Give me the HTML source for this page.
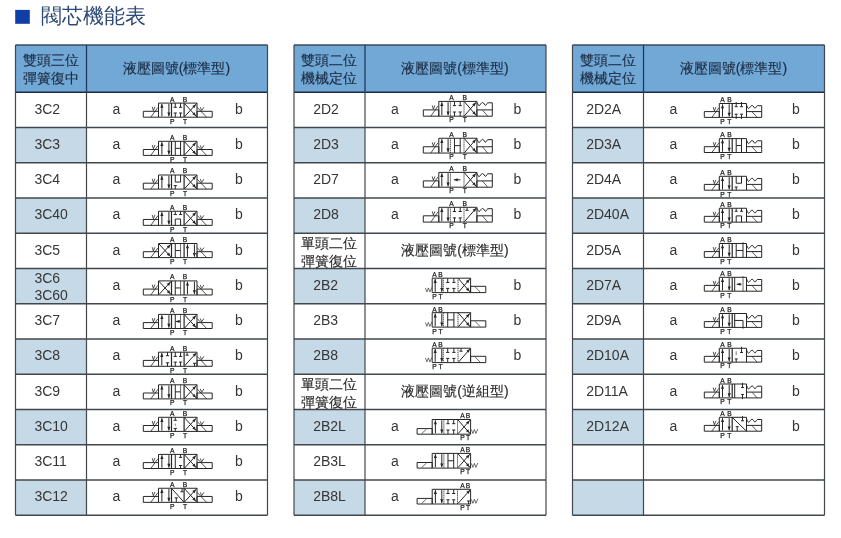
<!DOCTYPE html>
<html><head><meta charset="utf-8"><style>
html,body{margin:0;padding:0;background:#fff;width:841px;height:538px;overflow:hidden}
svg text{font-family:"Liberation Sans",sans-serif}
svg{will-change:transform}
</style></head><body>
<svg width="841" height="538" viewBox="0 0 841 538" style="position:absolute;left:0;top:0">
<rect x="15.2" y="9.9" width="14.6" height="13.9" fill="#0f3fa6"/>
<text x="41" y="22.8" font-size="21" fill="#2d4a76">閥芯機能表</text>
<rect x="15.50" y="45.00" width="252.00" height="47.25" fill="#72a8d5"/>
<rect x="15.50" y="127.50" width="71.00" height="35.25" fill="#c5d9e7"/>
<rect x="15.50" y="198.00" width="71.00" height="35.25" fill="#c5d9e7"/>
<rect x="15.50" y="268.50" width="71.00" height="35.25" fill="#c5d9e7"/>
<rect x="15.50" y="339.00" width="71.00" height="35.25" fill="#c5d9e7"/>
<rect x="15.50" y="409.50" width="71.00" height="35.25" fill="#c5d9e7"/>
<rect x="15.50" y="480.00" width="71.00" height="35.25" fill="#c5d9e7"/>
<line x1="15.50" y1="127.50" x2="267.50" y2="127.50" stroke="#42474d" stroke-width="1.4" />
<line x1="15.50" y1="162.75" x2="267.50" y2="162.75" stroke="#42474d" stroke-width="1.4" />
<line x1="15.50" y1="198.00" x2="267.50" y2="198.00" stroke="#42474d" stroke-width="1.4" />
<line x1="15.50" y1="233.25" x2="267.50" y2="233.25" stroke="#42474d" stroke-width="1.4" />
<line x1="15.50" y1="268.50" x2="267.50" y2="268.50" stroke="#42474d" stroke-width="1.4" />
<line x1="15.50" y1="303.75" x2="267.50" y2="303.75" stroke="#42474d" stroke-width="1.4" />
<line x1="15.50" y1="339.00" x2="267.50" y2="339.00" stroke="#42474d" stroke-width="1.4" />
<line x1="15.50" y1="374.25" x2="267.50" y2="374.25" stroke="#42474d" stroke-width="1.4" />
<line x1="15.50" y1="409.50" x2="267.50" y2="409.50" stroke="#42474d" stroke-width="1.4" />
<line x1="15.50" y1="444.75" x2="267.50" y2="444.75" stroke="#42474d" stroke-width="1.4" />
<line x1="15.50" y1="480.00" x2="267.50" y2="480.00" stroke="#42474d" stroke-width="1.4" />
<line x1="15.50" y1="515.25" x2="267.50" y2="515.25" stroke="#42474d" stroke-width="1.4" />
<line x1="15.50" y1="92.25" x2="267.50" y2="92.25" stroke="#1c2c44" stroke-width="1.4" />
<line x1="15.50" y1="45.00" x2="267.50" y2="45.00" stroke="#3c4a5a" stroke-width="1.4" />
<line x1="15.50" y1="45.00" x2="15.50" y2="515.25" stroke="#42474d" stroke-width="1.2" />
<line x1="267.50" y1="45.00" x2="267.50" y2="515.25" stroke="#42474d" stroke-width="1.2" />
<line x1="86.50" y1="45.00" x2="86.50" y2="92.25" stroke="#1e3a5e" stroke-width="1.3" />
<line x1="86.50" y1="92.25" x2="86.50" y2="515.25" stroke="#42474d" stroke-width="1.2" />
<text x="50.70" y="64.80" font-size="14" fill="#1b2c44" stroke="#1b2c44" stroke-width="0.15" text-anchor="middle">雙頭三位</text>
<text x="50.70" y="83.10" font-size="14" fill="#1b2c44" stroke="#1b2c44" stroke-width="0.15" text-anchor="middle">彈簧復中</text>
<text x="176.50" y="72.60" font-size="14" fill="#1b2c44" stroke="#1b2c44" stroke-width="0.15" text-anchor="middle">液壓圖號(標準型)</text>
<text x="34.40" y="113.65" font-size="14" fill="#363636" text-anchor="start" font-weight="normal" >3C2</text>
<path d="M143.30,111.30 h15.20 v5.90 h-15.20 Z" fill="none" stroke="#262626" stroke-width="1.0"/>
<path d="M150.80,117.20 L157.90,107.50" fill="none" stroke="#262626" stroke-width="0.8"/>
<path d="M152.20,106.80 L153.40,110.60 L154.90,106.80" fill="none" stroke="#262626" stroke-width="0.8"/>
<path d="M197.00,111.30 h15.20 v5.90 h-15.20 Z" fill="none" stroke="#262626" stroke-width="1.0"/>
<path d="M197.20,107.30 L206.60,117.20" fill="none" stroke="#262626" stroke-width="0.8"/>
<path d="M200.30,107.20 L201.60,110.60 L203.90,107.20" fill="none" stroke="#262626" stroke-width="0.8"/>
<path d="M158.50,103.10 H197.00 V117.20 H158.50 Z" fill="none" stroke="#262626" stroke-width="1.0"/>
<path d="M171.50,103.10 V117.20 M184.10,103.10 V117.20" fill="none" stroke="#262626" stroke-width="1.2"/>
<path d="M161.88,116.40 L161.88,104.00" fill="none" stroke="#262626" stroke-width="1.0"/>
<path d="M161.88,104.00 L163.48,107.80 L160.28,107.80 Z" fill="#262626"/>
<path d="M168.90,103.90 L168.90,116.30" fill="none" stroke="#262626" stroke-width="1.0"/>
<path d="M168.90,116.30 L167.30,112.50 L170.50,112.50 Z" fill="#262626"/>
<path d="M175.28,103.10 L175.28,107.30 M173.68,107.30 L176.88,107.30" fill="none" stroke="#262626" stroke-width="1.0"/>
<path d="M180.57,103.10 L180.57,107.30 M178.97,107.30 L182.17,107.30" fill="none" stroke="#262626" stroke-width="1.0"/>
<path d="M175.28,117.20 L175.28,113.00 M173.68,113.00 L176.88,113.00" fill="none" stroke="#262626" stroke-width="1.0"/>
<path d="M180.57,117.20 L180.57,113.00 M178.97,113.00 L182.17,113.00" fill="none" stroke="#262626" stroke-width="1.0"/>
<path d="M184.60,116.70 L196.00,104.20" fill="none" stroke="#262626" stroke-width="1.0"/>
<path d="M196.00,104.20 L194.62,108.09 L192.26,105.93 Z" fill="#262626"/>
<path d="M184.60,103.60 L196.00,116.10" fill="none" stroke="#262626" stroke-width="1.0"/>
<path d="M196.00,116.10 L192.26,114.37 L194.62,112.21 Z" fill="#262626"/>
<path d="M196.00,104.20 L197.00,103.10 M196.00,116.10 L197.00,117.20" fill="none" stroke="#262626" stroke-width="1.0"/>
<text x="172.20" y="101.50" font-size="6.7" fill="#1e1e1e" text-anchor="middle" font-weight="normal" stroke="#1e1e1e" stroke-width="0.25">A</text>
<text x="185.10" y="101.50" font-size="6.7" fill="#1e1e1e" text-anchor="middle" font-weight="normal" stroke="#1e1e1e" stroke-width="0.25">B</text>
<text x="172.20" y="123.70" font-size="6.7" fill="#1e1e1e" text-anchor="middle" font-weight="normal" stroke="#1e1e1e" stroke-width="0.25">P</text>
<text x="185.10" y="123.70" font-size="6.7" fill="#1e1e1e" text-anchor="middle" font-weight="normal" stroke="#1e1e1e" stroke-width="0.25">T</text>
<text x="112.50" y="113.65" font-size="14" fill="#363636" text-anchor="start" font-weight="normal" >a</text>
<text x="235.00" y="113.65" font-size="14" fill="#363636" text-anchor="start" font-weight="normal" >b</text>
<text x="34.40" y="148.90" font-size="14" fill="#363636" text-anchor="start" font-weight="normal" >3C3</text>
<path d="M143.30,149.50 h15.20 v5.90 h-15.20 Z" fill="none" stroke="#262626" stroke-width="1.0"/>
<path d="M150.80,155.40 L157.90,145.70" fill="none" stroke="#262626" stroke-width="0.8"/>
<path d="M152.20,145.00 L153.40,148.80 L154.90,145.00" fill="none" stroke="#262626" stroke-width="0.8"/>
<path d="M197.00,149.50 h15.20 v5.90 h-15.20 Z" fill="none" stroke="#262626" stroke-width="1.0"/>
<path d="M197.20,145.50 L206.60,155.40" fill="none" stroke="#262626" stroke-width="0.8"/>
<path d="M200.30,145.40 L201.60,148.80 L203.90,145.40" fill="none" stroke="#262626" stroke-width="0.8"/>
<path d="M158.50,141.30 H197.00 V155.40 H158.50 Z" fill="none" stroke="#262626" stroke-width="1.0"/>
<path d="M171.50,141.30 V155.40 M184.10,141.30 V155.40" fill="none" stroke="#262626" stroke-width="1.2"/>
<path d="M161.88,154.60 L161.88,142.20" fill="none" stroke="#262626" stroke-width="1.0"/>
<path d="M161.88,142.20 L163.48,146.00 L160.28,146.00 Z" fill="#262626"/>
<path d="M168.90,142.10 L168.90,154.50" fill="none" stroke="#262626" stroke-width="1.0"/>
<path d="M168.90,154.50 L167.30,150.70 L170.50,150.70 Z" fill="#262626"/>
<path d="M175.28,141.30 L175.28,155.40 M180.57,141.30 L180.57,155.40 M175.28,148.35 L180.57,148.35" fill="none" stroke="#262626" stroke-width="1.0"/>
<path d="M184.60,154.90 L196.00,142.40" fill="none" stroke="#262626" stroke-width="1.0"/>
<path d="M196.00,142.40 L194.62,146.29 L192.26,144.13 Z" fill="#262626"/>
<path d="M184.60,141.80 L196.00,154.30" fill="none" stroke="#262626" stroke-width="1.0"/>
<path d="M196.00,154.30 L192.26,152.57 L194.62,150.41 Z" fill="#262626"/>
<path d="M196.00,142.40 L197.00,141.30 M196.00,154.30 L197.00,155.40" fill="none" stroke="#262626" stroke-width="1.0"/>
<text x="172.20" y="139.70" font-size="6.7" fill="#1e1e1e" text-anchor="middle" font-weight="normal" stroke="#1e1e1e" stroke-width="0.25">A</text>
<text x="185.10" y="139.70" font-size="6.7" fill="#1e1e1e" text-anchor="middle" font-weight="normal" stroke="#1e1e1e" stroke-width="0.25">B</text>
<text x="172.20" y="161.90" font-size="6.7" fill="#1e1e1e" text-anchor="middle" font-weight="normal" stroke="#1e1e1e" stroke-width="0.25">P</text>
<text x="185.10" y="161.90" font-size="6.7" fill="#1e1e1e" text-anchor="middle" font-weight="normal" stroke="#1e1e1e" stroke-width="0.25">T</text>
<text x="112.50" y="148.90" font-size="14" fill="#363636" text-anchor="start" font-weight="normal" >a</text>
<text x="235.00" y="148.90" font-size="14" fill="#363636" text-anchor="start" font-weight="normal" >b</text>
<text x="34.40" y="184.15" font-size="14" fill="#363636" text-anchor="start" font-weight="normal" >3C4</text>
<path d="M143.30,183.20 h15.20 v5.90 h-15.20 Z" fill="none" stroke="#262626" stroke-width="1.0"/>
<path d="M150.80,189.10 L157.90,179.40" fill="none" stroke="#262626" stroke-width="0.8"/>
<path d="M152.20,178.70 L153.40,182.50 L154.90,178.70" fill="none" stroke="#262626" stroke-width="0.8"/>
<path d="M197.00,183.20 h15.20 v5.90 h-15.20 Z" fill="none" stroke="#262626" stroke-width="1.0"/>
<path d="M197.20,179.20 L206.60,189.10" fill="none" stroke="#262626" stroke-width="0.8"/>
<path d="M200.30,179.10 L201.60,182.50 L203.90,179.10" fill="none" stroke="#262626" stroke-width="0.8"/>
<path d="M158.50,175.00 H197.00 V189.10 H158.50 Z" fill="none" stroke="#262626" stroke-width="1.0"/>
<path d="M171.50,175.00 V189.10 M184.10,175.00 V189.10" fill="none" stroke="#262626" stroke-width="1.2"/>
<path d="M161.88,188.30 L161.88,175.90" fill="none" stroke="#262626" stroke-width="1.0"/>
<path d="M161.88,175.90 L163.48,179.70 L160.28,179.70 Z" fill="#262626"/>
<path d="M168.90,175.80 L168.90,188.20" fill="none" stroke="#262626" stroke-width="1.0"/>
<path d="M168.90,188.20 L167.30,184.40 L170.50,184.40 Z" fill="#262626"/>
<path d="M175.28,175.00 L175.28,182.05 L180.57,182.05 L180.57,175.00" fill="none" stroke="#262626" stroke-width="1.0"/>
<path d="M175.28,189.10 L175.28,185.60 M173.68,185.60 L176.88,185.60" fill="none" stroke="#262626" stroke-width="1.0"/>
<path d="M184.60,188.60 L196.00,176.10" fill="none" stroke="#262626" stroke-width="1.0"/>
<path d="M196.00,176.10 L194.62,179.99 L192.26,177.83 Z" fill="#262626"/>
<path d="M184.60,175.50 L196.00,188.00" fill="none" stroke="#262626" stroke-width="1.0"/>
<path d="M196.00,188.00 L192.26,186.27 L194.62,184.11 Z" fill="#262626"/>
<path d="M196.00,176.10 L197.00,175.00 M196.00,188.00 L197.00,189.10" fill="none" stroke="#262626" stroke-width="1.0"/>
<text x="172.20" y="173.40" font-size="6.7" fill="#1e1e1e" text-anchor="middle" font-weight="normal" stroke="#1e1e1e" stroke-width="0.25">A</text>
<text x="185.10" y="173.40" font-size="6.7" fill="#1e1e1e" text-anchor="middle" font-weight="normal" stroke="#1e1e1e" stroke-width="0.25">B</text>
<text x="172.20" y="195.60" font-size="6.7" fill="#1e1e1e" text-anchor="middle" font-weight="normal" stroke="#1e1e1e" stroke-width="0.25">P</text>
<text x="185.10" y="195.60" font-size="6.7" fill="#1e1e1e" text-anchor="middle" font-weight="normal" stroke="#1e1e1e" stroke-width="0.25">T</text>
<text x="112.50" y="184.15" font-size="14" fill="#363636" text-anchor="start" font-weight="normal" >a</text>
<text x="235.00" y="184.15" font-size="14" fill="#363636" text-anchor="start" font-weight="normal" >b</text>
<text x="34.40" y="219.40" font-size="14" fill="#363636" text-anchor="start" font-weight="normal" >3C40</text>
<path d="M143.30,219.45 h15.20 v5.90 h-15.20 Z" fill="none" stroke="#262626" stroke-width="1.0"/>
<path d="M150.80,225.35 L157.90,215.65" fill="none" stroke="#262626" stroke-width="0.8"/>
<path d="M152.20,214.95 L153.40,218.75 L154.90,214.95" fill="none" stroke="#262626" stroke-width="0.8"/>
<path d="M197.00,219.45 h15.20 v5.90 h-15.20 Z" fill="none" stroke="#262626" stroke-width="1.0"/>
<path d="M197.20,215.45 L206.60,225.35" fill="none" stroke="#262626" stroke-width="0.8"/>
<path d="M200.30,215.35 L201.60,218.75 L203.90,215.35" fill="none" stroke="#262626" stroke-width="0.8"/>
<path d="M158.50,211.25 H197.00 V225.35 H158.50 Z" fill="none" stroke="#262626" stroke-width="1.0"/>
<path d="M171.50,211.25 V225.35 M184.10,211.25 V225.35" fill="none" stroke="#262626" stroke-width="1.2"/>
<path d="M161.88,224.55 L161.88,212.15" fill="none" stroke="#262626" stroke-width="1.0"/>
<path d="M161.88,212.15 L163.48,215.95 L160.28,215.95 Z" fill="#262626"/>
<path d="M168.90,212.05 L168.90,224.45" fill="none" stroke="#262626" stroke-width="1.0"/>
<path d="M168.90,224.45 L167.30,220.65 L170.50,220.65 Z" fill="#262626"/>
<path d="M175.28,219.00 L180.57,219.00 M175.28,219.00 L175.28,225.35 M180.57,219.00 L180.57,225.35" fill="none" stroke="#262626" stroke-width="1.0"/>
<path d="M175.28,211.25 L175.28,214.55 M173.68,214.55 L176.88,214.55" fill="none" stroke="#262626" stroke-width="1.0"/>
<path d="M180.57,211.25 L180.57,214.55 M178.97,214.55 L182.17,214.55" fill="none" stroke="#262626" stroke-width="1.0"/>
<path d="M184.60,224.85 L196.00,212.35" fill="none" stroke="#262626" stroke-width="1.0"/>
<path d="M196.00,212.35 L194.62,216.24 L192.26,214.08 Z" fill="#262626"/>
<path d="M184.60,211.75 L196.00,224.25" fill="none" stroke="#262626" stroke-width="1.0"/>
<path d="M196.00,224.25 L192.26,222.52 L194.62,220.36 Z" fill="#262626"/>
<path d="M196.00,212.35 L197.00,211.25 M196.00,224.25 L197.00,225.35" fill="none" stroke="#262626" stroke-width="1.0"/>
<text x="172.20" y="209.65" font-size="6.7" fill="#1e1e1e" text-anchor="middle" font-weight="normal" stroke="#1e1e1e" stroke-width="0.25">A</text>
<text x="185.10" y="209.65" font-size="6.7" fill="#1e1e1e" text-anchor="middle" font-weight="normal" stroke="#1e1e1e" stroke-width="0.25">B</text>
<text x="172.20" y="231.85" font-size="6.7" fill="#1e1e1e" text-anchor="middle" font-weight="normal" stroke="#1e1e1e" stroke-width="0.25">P</text>
<text x="185.10" y="231.85" font-size="6.7" fill="#1e1e1e" text-anchor="middle" font-weight="normal" stroke="#1e1e1e" stroke-width="0.25">T</text>
<text x="112.50" y="219.40" font-size="14" fill="#363636" text-anchor="start" font-weight="normal" >a</text>
<text x="235.00" y="219.40" font-size="14" fill="#363636" text-anchor="start" font-weight="normal" >b</text>
<text x="34.40" y="254.65" font-size="14" fill="#363636" text-anchor="start" font-weight="normal" >3C5</text>
<path d="M143.30,251.70 h15.20 v5.90 h-15.20 Z" fill="none" stroke="#262626" stroke-width="1.0"/>
<path d="M150.80,257.60 L157.90,247.90" fill="none" stroke="#262626" stroke-width="0.8"/>
<path d="M152.20,247.20 L153.40,251.00 L154.90,247.20" fill="none" stroke="#262626" stroke-width="0.8"/>
<path d="M197.00,251.70 h15.20 v5.90 h-15.20 Z" fill="none" stroke="#262626" stroke-width="1.0"/>
<path d="M197.20,247.70 L206.60,257.60" fill="none" stroke="#262626" stroke-width="0.8"/>
<path d="M200.30,247.60 L201.60,251.00 L203.90,247.60" fill="none" stroke="#262626" stroke-width="0.8"/>
<path d="M158.50,243.50 H197.00 V257.60 H158.50 Z" fill="none" stroke="#262626" stroke-width="1.0"/>
<path d="M171.50,243.50 V257.60 M184.10,243.50 V257.60" fill="none" stroke="#262626" stroke-width="1.2"/>
<path d="M159.00,257.10 L170.50,244.60" fill="none" stroke="#262626" stroke-width="1.0"/>
<path d="M170.50,244.60 L169.10,248.48 L166.75,246.31 Z" fill="#262626"/>
<path d="M159.00,244.00 L170.50,256.50" fill="none" stroke="#262626" stroke-width="1.0"/>
<path d="M170.50,256.50 L166.75,254.79 L169.10,252.62 Z" fill="#262626"/>
<path d="M170.50,244.60 L171.50,243.50 M170.50,256.50 L171.50,257.60" fill="none" stroke="#262626" stroke-width="1.0"/>
<path d="M175.28,243.50 L175.28,257.60 M175.28,250.55 L180.57,250.55" fill="none" stroke="#262626" stroke-width="1.0"/>
<path d="M180.57,243.50 L180.57,257.60" fill="none" stroke="#262626" stroke-width="0.7"/>
<path d="M187.45,256.80 L187.45,244.40" fill="none" stroke="#262626" stroke-width="1.0"/>
<path d="M187.45,244.40 L189.05,248.20 L185.85,248.20 Z" fill="#262626"/>
<path d="M194.42,244.30 L194.42,256.70" fill="none" stroke="#262626" stroke-width="1.0"/>
<path d="M194.42,256.70 L192.82,252.90 L196.02,252.90 Z" fill="#262626"/>
<text x="172.20" y="241.90" font-size="6.7" fill="#1e1e1e" text-anchor="middle" font-weight="normal" stroke="#1e1e1e" stroke-width="0.25">A</text>
<text x="185.10" y="241.90" font-size="6.7" fill="#1e1e1e" text-anchor="middle" font-weight="normal" stroke="#1e1e1e" stroke-width="0.25">B</text>
<text x="172.20" y="264.10" font-size="6.7" fill="#1e1e1e" text-anchor="middle" font-weight="normal" stroke="#1e1e1e" stroke-width="0.25">P</text>
<text x="185.10" y="264.10" font-size="6.7" fill="#1e1e1e" text-anchor="middle" font-weight="normal" stroke="#1e1e1e" stroke-width="0.25">T</text>
<text x="112.50" y="254.65" font-size="14" fill="#363636" text-anchor="start" font-weight="normal" >a</text>
<text x="235.00" y="254.65" font-size="14" fill="#363636" text-anchor="start" font-weight="normal" >b</text>
<text x="34.40" y="282.50" font-size="14" fill="#363636" text-anchor="start" font-weight="normal" >3C6</text>
<text x="34.40" y="300.10" font-size="14" fill="#363636" text-anchor="start" font-weight="normal" >3C60</text>
<path d="M143.30,289.10 h15.20 v5.90 h-15.20 Z" fill="none" stroke="#262626" stroke-width="1.0"/>
<path d="M150.80,295.00 L157.90,285.30" fill="none" stroke="#262626" stroke-width="0.8"/>
<path d="M152.20,284.60 L153.40,288.40 L154.90,284.60" fill="none" stroke="#262626" stroke-width="0.8"/>
<path d="M197.00,289.10 h15.20 v5.90 h-15.20 Z" fill="none" stroke="#262626" stroke-width="1.0"/>
<path d="M197.20,285.10 L206.60,295.00" fill="none" stroke="#262626" stroke-width="0.8"/>
<path d="M200.30,285.00 L201.60,288.40 L203.90,285.00" fill="none" stroke="#262626" stroke-width="0.8"/>
<path d="M158.50,280.90 H197.00 V295.00 H158.50 Z" fill="none" stroke="#262626" stroke-width="1.0"/>
<path d="M171.50,280.90 V295.00 M184.10,280.90 V295.00" fill="none" stroke="#262626" stroke-width="1.2"/>
<path d="M159.00,294.50 L170.50,282.00" fill="none" stroke="#262626" stroke-width="1.0"/>
<path d="M170.50,282.00 L169.10,285.88 L166.75,283.71 Z" fill="#262626"/>
<path d="M159.00,281.40 L170.50,293.90" fill="none" stroke="#262626" stroke-width="1.0"/>
<path d="M170.50,293.90 L166.75,292.19 L169.10,290.02 Z" fill="#262626"/>
<path d="M170.50,282.00 L171.50,280.90 M170.50,293.90 L171.50,295.00" fill="none" stroke="#262626" stroke-width="1.0"/>
<path d="M175.28,280.90 L175.28,295.00 M175.28,287.95 L180.57,287.95" fill="none" stroke="#262626" stroke-width="1.0"/>
<path d="M180.57,280.90 L180.57,295.00" fill="none" stroke="#262626" stroke-width="0.7"/>
<path d="M187.45,294.20 L187.45,281.80" fill="none" stroke="#262626" stroke-width="1.0"/>
<path d="M187.45,281.80 L189.05,285.60 L185.85,285.60 Z" fill="#262626"/>
<path d="M194.42,281.70 L194.42,294.10" fill="none" stroke="#262626" stroke-width="1.0"/>
<path d="M194.42,294.10 L192.82,290.30 L196.02,290.30 Z" fill="#262626"/>
<text x="172.20" y="279.30" font-size="6.7" fill="#1e1e1e" text-anchor="middle" font-weight="normal" stroke="#1e1e1e" stroke-width="0.25">A</text>
<text x="185.10" y="279.30" font-size="6.7" fill="#1e1e1e" text-anchor="middle" font-weight="normal" stroke="#1e1e1e" stroke-width="0.25">B</text>
<text x="172.20" y="301.50" font-size="6.7" fill="#1e1e1e" text-anchor="middle" font-weight="normal" stroke="#1e1e1e" stroke-width="0.25">P</text>
<text x="185.10" y="301.50" font-size="6.7" fill="#1e1e1e" text-anchor="middle" font-weight="normal" stroke="#1e1e1e" stroke-width="0.25">T</text>
<text x="112.50" y="289.90" font-size="14" fill="#363636" text-anchor="start" font-weight="normal" >a</text>
<text x="235.00" y="289.90" font-size="14" fill="#363636" text-anchor="start" font-weight="normal" >b</text>
<text x="34.40" y="325.15" font-size="14" fill="#363636" text-anchor="start" font-weight="normal" >3C7</text>
<path d="M143.30,322.60 h15.20 v5.90 h-15.20 Z" fill="none" stroke="#262626" stroke-width="1.0"/>
<path d="M150.80,328.50 L157.90,318.80" fill="none" stroke="#262626" stroke-width="0.8"/>
<path d="M152.20,318.10 L153.40,321.90 L154.90,318.10" fill="none" stroke="#262626" stroke-width="0.8"/>
<path d="M197.00,322.60 h15.20 v5.90 h-15.20 Z" fill="none" stroke="#262626" stroke-width="1.0"/>
<path d="M197.20,318.60 L206.60,328.50" fill="none" stroke="#262626" stroke-width="0.8"/>
<path d="M200.30,318.50 L201.60,321.90 L203.90,318.50" fill="none" stroke="#262626" stroke-width="0.8"/>
<path d="M158.50,314.40 H197.00 V328.50 H158.50 Z" fill="none" stroke="#262626" stroke-width="1.0"/>
<path d="M171.50,314.40 V328.50 M184.10,314.40 V328.50" fill="none" stroke="#262626" stroke-width="1.2"/>
<path d="M161.88,327.70 L161.88,315.30" fill="none" stroke="#262626" stroke-width="1.0"/>
<path d="M161.88,315.30 L163.48,319.10 L160.28,319.10 Z" fill="#262626"/>
<path d="M168.90,315.20 L168.90,327.60" fill="none" stroke="#262626" stroke-width="1.0"/>
<path d="M168.90,327.60 L167.30,323.80 L170.50,323.80 Z" fill="#262626"/>
<path d="M175.28,314.40 L175.28,328.50" fill="none" stroke="#262626" stroke-width="1.0"/>
<path d="M180.07,321.45 L175.78,321.45" fill="none" stroke="#262626" stroke-width="1.0"/>
<path d="M175.78,321.45 L179.58,319.85 L179.58,323.05 Z" fill="#262626"/>
<path d="M180.57,314.40 L180.57,328.50" fill="none" stroke="#262626" stroke-width="0.7"/>
<path d="M184.60,328.00 L196.00,315.50" fill="none" stroke="#262626" stroke-width="1.0"/>
<path d="M196.00,315.50 L194.62,319.39 L192.26,317.23 Z" fill="#262626"/>
<path d="M184.60,314.90 L196.00,327.40" fill="none" stroke="#262626" stroke-width="1.0"/>
<path d="M196.00,327.40 L192.26,325.67 L194.62,323.51 Z" fill="#262626"/>
<path d="M196.00,315.50 L197.00,314.40 M196.00,327.40 L197.00,328.50" fill="none" stroke="#262626" stroke-width="1.0"/>
<text x="172.20" y="312.80" font-size="6.7" fill="#1e1e1e" text-anchor="middle" font-weight="normal" stroke="#1e1e1e" stroke-width="0.25">A</text>
<text x="185.10" y="312.80" font-size="6.7" fill="#1e1e1e" text-anchor="middle" font-weight="normal" stroke="#1e1e1e" stroke-width="0.25">B</text>
<text x="172.20" y="335.00" font-size="6.7" fill="#1e1e1e" text-anchor="middle" font-weight="normal" stroke="#1e1e1e" stroke-width="0.25">P</text>
<text x="185.10" y="335.00" font-size="6.7" fill="#1e1e1e" text-anchor="middle" font-weight="normal" stroke="#1e1e1e" stroke-width="0.25">T</text>
<text x="112.50" y="325.15" font-size="14" fill="#363636" text-anchor="start" font-weight="normal" >a</text>
<text x="235.00" y="325.15" font-size="14" fill="#363636" text-anchor="start" font-weight="normal" >b</text>
<text x="34.40" y="360.40" font-size="14" fill="#363636" text-anchor="start" font-weight="normal" >3C8</text>
<path d="M143.30,360.40 h15.20 v5.90 h-15.20 Z" fill="none" stroke="#262626" stroke-width="1.0"/>
<path d="M150.80,366.30 L157.90,356.60" fill="none" stroke="#262626" stroke-width="0.8"/>
<path d="M152.20,355.90 L153.40,359.70 L154.90,355.90" fill="none" stroke="#262626" stroke-width="0.8"/>
<path d="M197.00,360.40 h15.20 v5.90 h-15.20 Z" fill="none" stroke="#262626" stroke-width="1.0"/>
<path d="M197.20,356.40 L206.60,366.30" fill="none" stroke="#262626" stroke-width="0.8"/>
<path d="M200.30,356.30 L201.60,359.70 L203.90,356.30" fill="none" stroke="#262626" stroke-width="0.8"/>
<path d="M158.50,352.20 H197.00 V366.30 H158.50 Z" fill="none" stroke="#262626" stroke-width="1.0"/>
<path d="M171.50,352.20 V366.30 M184.10,352.20 V366.30" fill="none" stroke="#262626" stroke-width="1.2"/>
<path d="M161.80,365.50 L161.80,353.10" fill="none" stroke="#262626" stroke-width="1.0"/>
<path d="M161.80,353.10 L163.40,356.90 L160.20,356.90 Z" fill="#262626"/>
<path d="M167.50,352.20 L167.50,355.70 M165.90,355.70 L169.10,355.70" fill="none" stroke="#262626" stroke-width="1.0"/>
<path d="M167.50,366.30 L167.50,362.80 M165.90,362.80 L169.10,362.80" fill="none" stroke="#262626" stroke-width="1.0"/>
<path d="M175.28,352.20 L175.28,356.40 M173.68,356.40 L176.88,356.40" fill="none" stroke="#262626" stroke-width="1.0"/>
<path d="M180.57,352.20 L180.57,356.40 M178.97,356.40 L182.17,356.40" fill="none" stroke="#262626" stroke-width="1.0"/>
<path d="M175.28,366.30 L175.28,362.10 M173.68,362.10 L176.88,362.10" fill="none" stroke="#262626" stroke-width="1.0"/>
<path d="M180.57,366.30 L180.57,362.10 M178.97,362.10 L182.17,362.10" fill="none" stroke="#262626" stroke-width="1.0"/>
<path d="M184.60,365.80 L196.40,352.90" fill="none" stroke="#262626" stroke-width="1.0"/>
<path d="M196.40,352.90 L195.02,356.78 L192.65,354.62 Z" fill="#262626"/>
<path d="M187.10,352.20 L187.10,355.20 M185.50,355.20 L188.70,355.20" fill="none" stroke="#262626" stroke-width="1.0"/>
<path d="M194.50,366.30 L194.50,363.30 M192.90,363.30 L196.10,363.30" fill="none" stroke="#262626" stroke-width="1.0"/>
<text x="172.20" y="350.60" font-size="6.7" fill="#1e1e1e" text-anchor="middle" font-weight="normal" stroke="#1e1e1e" stroke-width="0.25">A</text>
<text x="185.10" y="350.60" font-size="6.7" fill="#1e1e1e" text-anchor="middle" font-weight="normal" stroke="#1e1e1e" stroke-width="0.25">B</text>
<text x="172.20" y="372.80" font-size="6.7" fill="#1e1e1e" text-anchor="middle" font-weight="normal" stroke="#1e1e1e" stroke-width="0.25">P</text>
<text x="185.10" y="372.80" font-size="6.7" fill="#1e1e1e" text-anchor="middle" font-weight="normal" stroke="#1e1e1e" stroke-width="0.25">T</text>
<text x="112.50" y="360.40" font-size="14" fill="#363636" text-anchor="start" font-weight="normal" >a</text>
<text x="235.00" y="360.40" font-size="14" fill="#363636" text-anchor="start" font-weight="normal" >b</text>
<text x="34.40" y="395.65" font-size="14" fill="#363636" text-anchor="start" font-weight="normal" >3C9</text>
<path d="M143.30,393.00 h15.20 v5.90 h-15.20 Z" fill="none" stroke="#262626" stroke-width="1.0"/>
<path d="M150.80,398.90 L157.90,389.20" fill="none" stroke="#262626" stroke-width="0.8"/>
<path d="M152.20,388.50 L153.40,392.30 L154.90,388.50" fill="none" stroke="#262626" stroke-width="0.8"/>
<path d="M197.00,393.00 h15.20 v5.90 h-15.20 Z" fill="none" stroke="#262626" stroke-width="1.0"/>
<path d="M197.20,389.00 L206.60,398.90" fill="none" stroke="#262626" stroke-width="0.8"/>
<path d="M200.30,388.90 L201.60,392.30 L203.90,388.90" fill="none" stroke="#262626" stroke-width="0.8"/>
<path d="M158.50,384.80 H197.00 V398.90 H158.50 Z" fill="none" stroke="#262626" stroke-width="1.0"/>
<path d="M171.50,384.80 V398.90 M184.10,384.80 V398.90" fill="none" stroke="#262626" stroke-width="1.2"/>
<path d="M161.88,398.10 L161.88,385.70" fill="none" stroke="#262626" stroke-width="1.0"/>
<path d="M161.88,385.70 L163.48,389.50 L160.28,389.50 Z" fill="#262626"/>
<path d="M168.90,385.60 L168.90,398.00" fill="none" stroke="#262626" stroke-width="1.0"/>
<path d="M168.90,398.00 L167.30,394.20 L170.50,394.20 Z" fill="#262626"/>
<path d="M175.28,384.80 L175.28,398.90 M175.28,391.85 L180.57,391.85" fill="none" stroke="#262626" stroke-width="1.0"/>
<path d="M180.57,384.80 L180.57,398.90" fill="none" stroke="#262626" stroke-width="0.7"/>
<path d="M184.60,398.40 L196.00,385.90" fill="none" stroke="#262626" stroke-width="1.0"/>
<path d="M196.00,385.90 L194.62,389.79 L192.26,387.63 Z" fill="#262626"/>
<path d="M184.60,385.30 L196.00,397.80" fill="none" stroke="#262626" stroke-width="1.0"/>
<path d="M196.00,397.80 L192.26,396.07 L194.62,393.91 Z" fill="#262626"/>
<path d="M196.00,385.90 L197.00,384.80 M196.00,397.80 L197.00,398.90" fill="none" stroke="#262626" stroke-width="1.0"/>
<text x="172.20" y="383.20" font-size="6.7" fill="#1e1e1e" text-anchor="middle" font-weight="normal" stroke="#1e1e1e" stroke-width="0.25">A</text>
<text x="185.10" y="383.20" font-size="6.7" fill="#1e1e1e" text-anchor="middle" font-weight="normal" stroke="#1e1e1e" stroke-width="0.25">B</text>
<text x="172.20" y="405.40" font-size="6.7" fill="#1e1e1e" text-anchor="middle" font-weight="normal" stroke="#1e1e1e" stroke-width="0.25">P</text>
<text x="185.10" y="405.40" font-size="6.7" fill="#1e1e1e" text-anchor="middle" font-weight="normal" stroke="#1e1e1e" stroke-width="0.25">T</text>
<text x="112.50" y="395.65" font-size="14" fill="#363636" text-anchor="start" font-weight="normal" >a</text>
<text x="235.00" y="395.65" font-size="14" fill="#363636" text-anchor="start" font-weight="normal" >b</text>
<text x="34.40" y="430.90" font-size="14" fill="#363636" text-anchor="start" font-weight="normal" >3C10</text>
<path d="M143.30,425.50 h15.20 v5.90 h-15.20 Z" fill="none" stroke="#262626" stroke-width="1.0"/>
<path d="M150.80,431.40 L157.90,421.70" fill="none" stroke="#262626" stroke-width="0.8"/>
<path d="M152.20,421.00 L153.40,424.80 L154.90,421.00" fill="none" stroke="#262626" stroke-width="0.8"/>
<path d="M197.00,425.50 h15.20 v5.90 h-15.20 Z" fill="none" stroke="#262626" stroke-width="1.0"/>
<path d="M197.20,421.50 L206.60,431.40" fill="none" stroke="#262626" stroke-width="0.8"/>
<path d="M200.30,421.40 L201.60,424.80 L203.90,421.40" fill="none" stroke="#262626" stroke-width="0.8"/>
<path d="M158.50,417.30 H197.00 V431.40 H158.50 Z" fill="none" stroke="#262626" stroke-width="1.0"/>
<path d="M171.50,417.30 V431.40 M184.10,417.30 V431.40" fill="none" stroke="#262626" stroke-width="1.2"/>
<path d="M161.88,430.60 L161.88,418.20" fill="none" stroke="#262626" stroke-width="1.0"/>
<path d="M161.88,418.20 L163.48,422.00 L160.28,422.00 Z" fill="#262626"/>
<path d="M168.90,418.10 L168.90,430.50" fill="none" stroke="#262626" stroke-width="1.0"/>
<path d="M168.90,430.50 L167.30,426.70 L170.50,426.70 Z" fill="#262626"/>
<path d="M175.28,417.30 L175.28,420.30 M173.68,420.30 L176.88,420.30" fill="none" stroke="#262626" stroke-width="1.0"/>
<path d="M175.28,431.40 L175.28,428.40 M173.68,428.40 L176.88,428.40" fill="none" stroke="#262626" stroke-width="1.0"/>
<path d="M175.28,423.65 L175.28,425.76" fill="none" stroke="#262626" stroke-width="0.6"/>
<path d="M184.60,430.90 L196.00,418.40" fill="none" stroke="#262626" stroke-width="1.0"/>
<path d="M196.00,418.40 L194.62,422.29 L192.26,420.13 Z" fill="#262626"/>
<path d="M184.60,417.80 L196.00,430.30" fill="none" stroke="#262626" stroke-width="1.0"/>
<path d="M196.00,430.30 L192.26,428.57 L194.62,426.41 Z" fill="#262626"/>
<path d="M196.00,418.40 L197.00,417.30 M196.00,430.30 L197.00,431.40" fill="none" stroke="#262626" stroke-width="1.0"/>
<text x="172.20" y="415.70" font-size="6.7" fill="#1e1e1e" text-anchor="middle" font-weight="normal" stroke="#1e1e1e" stroke-width="0.25">A</text>
<text x="185.10" y="415.70" font-size="6.7" fill="#1e1e1e" text-anchor="middle" font-weight="normal" stroke="#1e1e1e" stroke-width="0.25">B</text>
<text x="172.20" y="437.90" font-size="6.7" fill="#1e1e1e" text-anchor="middle" font-weight="normal" stroke="#1e1e1e" stroke-width="0.25">P</text>
<text x="185.10" y="437.90" font-size="6.7" fill="#1e1e1e" text-anchor="middle" font-weight="normal" stroke="#1e1e1e" stroke-width="0.25">T</text>
<text x="112.50" y="430.90" font-size="14" fill="#363636" text-anchor="start" font-weight="normal" >a</text>
<text x="235.00" y="430.90" font-size="14" fill="#363636" text-anchor="start" font-weight="normal" >b</text>
<text x="34.40" y="466.15" font-size="14" fill="#363636" text-anchor="start" font-weight="normal" >3C11</text>
<path d="M143.30,462.60 h15.20 v5.90 h-15.20 Z" fill="none" stroke="#262626" stroke-width="1.0"/>
<path d="M150.80,468.50 L157.90,458.80" fill="none" stroke="#262626" stroke-width="0.8"/>
<path d="M152.20,458.10 L153.40,461.90 L154.90,458.10" fill="none" stroke="#262626" stroke-width="0.8"/>
<path d="M197.00,462.60 h15.20 v5.90 h-15.20 Z" fill="none" stroke="#262626" stroke-width="1.0"/>
<path d="M197.20,458.60 L206.60,468.50" fill="none" stroke="#262626" stroke-width="0.8"/>
<path d="M200.30,458.50 L201.60,461.90 L203.90,458.50" fill="none" stroke="#262626" stroke-width="0.8"/>
<path d="M158.50,454.40 H197.00 V468.50 H158.50 Z" fill="none" stroke="#262626" stroke-width="1.0"/>
<path d="M171.50,454.40 V468.50 M184.10,454.40 V468.50" fill="none" stroke="#262626" stroke-width="1.2"/>
<path d="M161.88,467.70 L161.88,455.30" fill="none" stroke="#262626" stroke-width="1.0"/>
<path d="M161.88,455.30 L163.48,459.10 L160.28,459.10 Z" fill="#262626"/>
<path d="M168.90,455.20 L168.90,467.60" fill="none" stroke="#262626" stroke-width="1.0"/>
<path d="M168.90,467.60 L167.30,463.80 L170.50,463.80 Z" fill="#262626"/>
<path d="M175.28,454.40 L175.28,468.50" fill="none" stroke="#262626" stroke-width="1.0"/>
<path d="M180.57,454.40 L180.57,457.40 M178.97,457.40 L182.17,457.40" fill="none" stroke="#262626" stroke-width="1.0"/>
<path d="M180.57,468.50 L180.57,465.50 M178.97,465.50 L182.17,465.50" fill="none" stroke="#262626" stroke-width="1.0"/>
<path d="M184.60,468.00 L196.00,455.50" fill="none" stroke="#262626" stroke-width="1.0"/>
<path d="M196.00,455.50 L194.62,459.39 L192.26,457.23 Z" fill="#262626"/>
<path d="M184.60,454.90 L196.00,467.40" fill="none" stroke="#262626" stroke-width="1.0"/>
<path d="M196.00,467.40 L192.26,465.67 L194.62,463.51 Z" fill="#262626"/>
<path d="M196.00,455.50 L197.00,454.40 M196.00,467.40 L197.00,468.50" fill="none" stroke="#262626" stroke-width="1.0"/>
<text x="172.20" y="452.80" font-size="6.7" fill="#1e1e1e" text-anchor="middle" font-weight="normal" stroke="#1e1e1e" stroke-width="0.25">A</text>
<text x="185.10" y="452.80" font-size="6.7" fill="#1e1e1e" text-anchor="middle" font-weight="normal" stroke="#1e1e1e" stroke-width="0.25">B</text>
<text x="172.20" y="475.00" font-size="6.7" fill="#1e1e1e" text-anchor="middle" font-weight="normal" stroke="#1e1e1e" stroke-width="0.25">P</text>
<text x="185.10" y="475.00" font-size="6.7" fill="#1e1e1e" text-anchor="middle" font-weight="normal" stroke="#1e1e1e" stroke-width="0.25">T</text>
<text x="112.50" y="466.15" font-size="14" fill="#363636" text-anchor="start" font-weight="normal" >a</text>
<text x="235.00" y="466.15" font-size="14" fill="#363636" text-anchor="start" font-weight="normal" >b</text>
<text x="34.40" y="501.40" font-size="14" fill="#363636" text-anchor="start" font-weight="normal" >3C12</text>
<path d="M143.30,496.45 h15.20 v5.90 h-15.20 Z" fill="none" stroke="#262626" stroke-width="1.0"/>
<path d="M150.80,502.35 L157.90,492.65" fill="none" stroke="#262626" stroke-width="0.8"/>
<path d="M152.20,491.95 L153.40,495.75 L154.90,491.95" fill="none" stroke="#262626" stroke-width="0.8"/>
<path d="M197.00,496.45 h15.20 v5.90 h-15.20 Z" fill="none" stroke="#262626" stroke-width="1.0"/>
<path d="M197.20,492.45 L206.60,502.35" fill="none" stroke="#262626" stroke-width="0.8"/>
<path d="M200.30,492.35 L201.60,495.75 L203.90,492.35" fill="none" stroke="#262626" stroke-width="0.8"/>
<path d="M158.50,488.25 H197.00 V502.35 H158.50 Z" fill="none" stroke="#262626" stroke-width="1.0"/>
<path d="M171.50,488.25 V502.35 M184.10,488.25 V502.35" fill="none" stroke="#262626" stroke-width="1.2"/>
<path d="M161.88,501.55 L161.88,489.15" fill="none" stroke="#262626" stroke-width="1.0"/>
<path d="M161.88,489.15 L163.48,492.95 L160.28,492.95 Z" fill="#262626"/>
<path d="M168.90,489.05 L168.90,501.45" fill="none" stroke="#262626" stroke-width="1.0"/>
<path d="M168.90,501.45 L167.30,497.65 L170.50,497.65 Z" fill="#262626"/>
<path d="M171.50,488.25 L184.10,502.35" fill="none" stroke="#262626" stroke-width="1.0"/>
<path d="M176.28,502.35 L176.28,497.85 M174.68,497.85 L177.88,497.85" fill="none" stroke="#262626" stroke-width="1.0"/>
<path d="M182.07,488.25 L182.07,491.75 M180.47,491.75 L183.67,491.75" fill="none" stroke="#262626" stroke-width="1.0"/>
<path d="M184.60,501.85 L196.00,489.35" fill="none" stroke="#262626" stroke-width="1.0"/>
<path d="M196.00,489.35 L194.62,493.24 L192.26,491.08 Z" fill="#262626"/>
<path d="M184.60,488.75 L196.00,501.25" fill="none" stroke="#262626" stroke-width="1.0"/>
<path d="M196.00,501.25 L192.26,499.52 L194.62,497.36 Z" fill="#262626"/>
<path d="M196.00,489.35 L197.00,488.25 M196.00,501.25 L197.00,502.35" fill="none" stroke="#262626" stroke-width="1.0"/>
<text x="172.20" y="486.65" font-size="6.7" fill="#1e1e1e" text-anchor="middle" font-weight="normal" stroke="#1e1e1e" stroke-width="0.25">A</text>
<text x="185.10" y="486.65" font-size="6.7" fill="#1e1e1e" text-anchor="middle" font-weight="normal" stroke="#1e1e1e" stroke-width="0.25">B</text>
<text x="172.20" y="508.85" font-size="6.7" fill="#1e1e1e" text-anchor="middle" font-weight="normal" stroke="#1e1e1e" stroke-width="0.25">P</text>
<text x="185.10" y="508.85" font-size="6.7" fill="#1e1e1e" text-anchor="middle" font-weight="normal" stroke="#1e1e1e" stroke-width="0.25">T</text>
<text x="112.50" y="501.40" font-size="14" fill="#363636" text-anchor="start" font-weight="normal" >a</text>
<text x="235.00" y="501.40" font-size="14" fill="#363636" text-anchor="start" font-weight="normal" >b</text>
<rect x="294.00" y="45.00" width="252.00" height="47.25" fill="#72a8d5"/>
<rect x="294.00" y="127.50" width="71.00" height="35.25" fill="#c5d9e7"/>
<rect x="294.00" y="198.00" width="71.00" height="35.25" fill="#c5d9e7"/>
<rect x="294.00" y="268.50" width="71.00" height="35.25" fill="#c5d9e7"/>
<rect x="294.00" y="339.00" width="71.00" height="35.25" fill="#c5d9e7"/>
<rect x="294.00" y="409.50" width="71.00" height="35.25" fill="#c5d9e7"/>
<rect x="294.00" y="480.00" width="71.00" height="35.25" fill="#c5d9e7"/>
<line x1="294.00" y1="127.50" x2="546.00" y2="127.50" stroke="#42474d" stroke-width="1.4" />
<line x1="294.00" y1="162.75" x2="546.00" y2="162.75" stroke="#42474d" stroke-width="1.4" />
<line x1="294.00" y1="198.00" x2="546.00" y2="198.00" stroke="#42474d" stroke-width="1.4" />
<line x1="294.00" y1="233.25" x2="546.00" y2="233.25" stroke="#42474d" stroke-width="1.4" />
<line x1="294.00" y1="268.50" x2="546.00" y2="268.50" stroke="#42474d" stroke-width="1.4" />
<line x1="294.00" y1="303.75" x2="546.00" y2="303.75" stroke="#42474d" stroke-width="1.4" />
<line x1="294.00" y1="339.00" x2="546.00" y2="339.00" stroke="#42474d" stroke-width="1.4" />
<line x1="294.00" y1="374.25" x2="546.00" y2="374.25" stroke="#42474d" stroke-width="1.4" />
<line x1="294.00" y1="409.50" x2="546.00" y2="409.50" stroke="#42474d" stroke-width="1.4" />
<line x1="294.00" y1="444.75" x2="546.00" y2="444.75" stroke="#42474d" stroke-width="1.4" />
<line x1="294.00" y1="480.00" x2="546.00" y2="480.00" stroke="#42474d" stroke-width="1.4" />
<line x1="294.00" y1="515.25" x2="546.00" y2="515.25" stroke="#42474d" stroke-width="1.4" />
<line x1="294.00" y1="92.25" x2="546.00" y2="92.25" stroke="#1c2c44" stroke-width="1.4" />
<line x1="294.00" y1="45.00" x2="546.00" y2="45.00" stroke="#3c4a5a" stroke-width="1.4" />
<line x1="294.00" y1="45.00" x2="294.00" y2="515.25" stroke="#42474d" stroke-width="1.2" />
<line x1="546.00" y1="45.00" x2="546.00" y2="515.25" stroke="#42474d" stroke-width="1.2" />
<line x1="365.00" y1="45.00" x2="365.00" y2="92.25" stroke="#1e3a5e" stroke-width="1.3" />
<line x1="365.00" y1="92.25" x2="365.00" y2="515.25" stroke="#42474d" stroke-width="1.2" />
<text x="329.20" y="64.80" font-size="14" fill="#1b2c44" stroke="#1b2c44" stroke-width="0.15" text-anchor="middle">雙頭二位</text>
<text x="329.20" y="83.10" font-size="14" fill="#1b2c44" stroke="#1b2c44" stroke-width="0.15" text-anchor="middle">機械定位</text>
<text x="455.00" y="72.60" font-size="14" fill="#1b2c44" stroke="#1b2c44" stroke-width="0.15" text-anchor="middle">液壓圖號(標準型)</text>
<text x="313.20" y="113.65" font-size="14" fill="#363636" text-anchor="start" font-weight="normal" >2D2</text>
<path d="M423.30,109.90 h15.50 v6.30 h-15.50 Z" fill="none" stroke="#262626" stroke-width="1.0"/>
<path d="M430.80,116.20 L437.90,106.10" fill="none" stroke="#262626" stroke-width="0.8"/>
<path d="M432.20,105.40 L433.40,109.20 L434.90,105.40" fill="none" stroke="#262626" stroke-width="0.8"/>
<path d="M438.80,101.40 H476.90 V116.20 H438.80 Z" fill="none" stroke="#262626" stroke-width="1.0"/>
<path d="M450.40,101.40 V116.20 M464.00,101.40 V116.20" fill="none" stroke="#262626" stroke-width="1.0" stroke-dasharray="1.1,0.9"/>
<path d="M441.82,115.40 L441.82,102.30" fill="none" stroke="#262626" stroke-width="1.0"/>
<path d="M441.82,102.30 L443.42,106.10 L440.22,106.10 Z" fill="#262626"/>
<path d="M448.08,102.20 L448.08,115.30" fill="none" stroke="#262626" stroke-width="1.0"/>
<path d="M448.08,115.30 L446.48,111.50 L449.68,111.50 Z" fill="#262626"/>
<path d="M454.48,101.40 L454.48,105.60 M452.88,105.60 L456.08,105.60" fill="none" stroke="#262626" stroke-width="1.0"/>
<path d="M460.19,101.40 L460.19,105.60 M458.59,105.60 L461.79,105.60" fill="none" stroke="#262626" stroke-width="1.0"/>
<path d="M454.48,116.20 L454.48,112.00 M452.88,112.00 L456.08,112.00" fill="none" stroke="#262626" stroke-width="1.0"/>
<path d="M460.19,116.20 L460.19,112.00 M458.59,112.00 L461.79,112.00" fill="none" stroke="#262626" stroke-width="1.0"/>
<path d="M464.50,115.70 L475.90,102.50" fill="none" stroke="#262626" stroke-width="1.0"/>
<path d="M475.90,102.50 L474.63,106.42 L472.21,104.33 Z" fill="#262626"/>
<path d="M464.50,101.90 L475.90,115.10" fill="none" stroke="#262626" stroke-width="1.0"/>
<path d="M475.90,115.10 L472.21,113.27 L474.63,111.18 Z" fill="#262626"/>
<path d="M475.90,102.50 L476.90,101.40 M475.90,115.10 L476.90,116.20" fill="none" stroke="#262626" stroke-width="1.0"/>
<path d="M476.90,109.90 h15.40 v6.30 h-15.40 Z" fill="none" stroke="#262626" stroke-width="1.0"/>
<path d="M482.62,110.20 L487.72,116.20" fill="none" stroke="#262626" stroke-width="0.75"/>
<path d="M477.21,102.60 C477.94,104.60 478.46,105.80 479.19,105.60 C480.23,105.20 481.27,102.40 482.62,102.50 C483.98,102.60 484.70,105.50 485.54,105.40 C486.37,105.30 486.89,103.20 487.72,102.80 L492.30,102.80 L492.30,109.90" fill="none" stroke="#262626" stroke-width="1.0"/>
<text x="451.60" y="100.20" font-size="6.7" fill="#1e1e1e" text-anchor="middle" font-weight="normal" stroke="#1e1e1e" stroke-width="0.25">A</text>
<text x="464.80" y="100.20" font-size="6.7" fill="#1e1e1e" text-anchor="middle" font-weight="normal" stroke="#1e1e1e" stroke-width="0.25">B</text>
<text x="451.60" y="122.40" font-size="6.7" fill="#1e1e1e" text-anchor="middle" font-weight="normal" stroke="#1e1e1e" stroke-width="0.25">P</text>
<text x="464.80" y="122.40" font-size="6.7" fill="#1e1e1e" text-anchor="middle" font-weight="normal" stroke="#1e1e1e" stroke-width="0.25">T</text>
<text x="391.00" y="113.65" font-size="14" fill="#363636" text-anchor="start" font-weight="normal" >a</text>
<text x="513.50" y="113.65" font-size="14" fill="#363636" text-anchor="start" font-weight="normal" >b</text>
<text x="313.20" y="148.90" font-size="14" fill="#363636" text-anchor="start" font-weight="normal" >2D3</text>
<path d="M423.30,146.75 h15.50 v6.30 h-15.50 Z" fill="none" stroke="#262626" stroke-width="1.0"/>
<path d="M430.80,153.05 L437.90,142.95" fill="none" stroke="#262626" stroke-width="0.8"/>
<path d="M432.20,142.25 L433.40,146.05 L434.90,142.25" fill="none" stroke="#262626" stroke-width="0.8"/>
<path d="M438.80,138.25 H476.90 V153.05 H438.80 Z" fill="none" stroke="#262626" stroke-width="1.0"/>
<path d="M450.40,138.25 V153.05 M464.00,138.25 V153.05" fill="none" stroke="#262626" stroke-width="1.0" stroke-dasharray="1.1,0.9"/>
<path d="M441.82,152.25 L441.82,139.15" fill="none" stroke="#262626" stroke-width="1.0"/>
<path d="M441.82,139.15 L443.42,142.95 L440.22,142.95 Z" fill="#262626"/>
<path d="M448.08,139.05 L448.08,152.15" fill="none" stroke="#262626" stroke-width="1.0"/>
<path d="M448.08,152.15 L446.48,148.35 L449.68,148.35 Z" fill="#262626"/>
<path d="M454.48,138.25 L454.48,153.05 M460.19,138.25 L460.19,153.05 M454.48,145.65 L460.19,145.65" fill="none" stroke="#262626" stroke-width="1.0"/>
<path d="M464.50,152.55 L475.90,139.35" fill="none" stroke="#262626" stroke-width="1.0"/>
<path d="M475.90,139.35 L474.63,143.27 L472.21,141.18 Z" fill="#262626"/>
<path d="M464.50,138.75 L475.90,151.95" fill="none" stroke="#262626" stroke-width="1.0"/>
<path d="M475.90,151.95 L472.21,150.12 L474.63,148.03 Z" fill="#262626"/>
<path d="M475.90,139.35 L476.90,138.25 M475.90,151.95 L476.90,153.05" fill="none" stroke="#262626" stroke-width="1.0"/>
<path d="M476.90,146.75 h15.40 v6.30 h-15.40 Z" fill="none" stroke="#262626" stroke-width="1.0"/>
<path d="M482.62,147.05 L487.72,153.05" fill="none" stroke="#262626" stroke-width="0.75"/>
<path d="M477.21,139.45 C477.94,141.45 478.46,142.65 479.19,142.45 C480.23,142.05 481.27,139.25 482.62,139.35 C483.98,139.45 484.70,142.35 485.54,142.25 C486.37,142.15 486.89,140.05 487.72,139.65 L492.30,139.65 L492.30,146.75" fill="none" stroke="#262626" stroke-width="1.0"/>
<text x="451.60" y="137.05" font-size="6.7" fill="#1e1e1e" text-anchor="middle" font-weight="normal" stroke="#1e1e1e" stroke-width="0.25">A</text>
<text x="464.80" y="137.05" font-size="6.7" fill="#1e1e1e" text-anchor="middle" font-weight="normal" stroke="#1e1e1e" stroke-width="0.25">B</text>
<text x="451.60" y="159.25" font-size="6.7" fill="#1e1e1e" text-anchor="middle" font-weight="normal" stroke="#1e1e1e" stroke-width="0.25">P</text>
<text x="464.80" y="159.25" font-size="6.7" fill="#1e1e1e" text-anchor="middle" font-weight="normal" stroke="#1e1e1e" stroke-width="0.25">T</text>
<text x="391.00" y="148.90" font-size="14" fill="#363636" text-anchor="start" font-weight="normal" >a</text>
<text x="513.50" y="148.90" font-size="14" fill="#363636" text-anchor="start" font-weight="normal" >b</text>
<text x="313.20" y="184.15" font-size="14" fill="#363636" text-anchor="start" font-weight="normal" >2D7</text>
<path d="M423.30,180.90 h15.50 v6.30 h-15.50 Z" fill="none" stroke="#262626" stroke-width="1.0"/>
<path d="M430.80,187.20 L437.90,177.10" fill="none" stroke="#262626" stroke-width="0.8"/>
<path d="M432.20,176.40 L433.40,180.20 L434.90,176.40" fill="none" stroke="#262626" stroke-width="0.8"/>
<path d="M438.80,172.40 H476.90 V187.20 H438.80 Z" fill="none" stroke="#262626" stroke-width="1.0"/>
<path d="M450.40,172.40 V187.20 M464.00,172.40 V187.20" fill="none" stroke="#262626" stroke-width="1.0" stroke-dasharray="1.1,0.9"/>
<path d="M441.82,186.40 L441.82,173.30" fill="none" stroke="#262626" stroke-width="1.0"/>
<path d="M441.82,173.30 L443.42,177.10 L440.22,177.10 Z" fill="#262626"/>
<path d="M448.08,173.20 L448.08,186.30" fill="none" stroke="#262626" stroke-width="1.0"/>
<path d="M448.08,186.30 L446.48,182.50 L449.68,182.50 Z" fill="#262626"/>
<path d="M460.50,179.80 L453.90,179.80" fill="none" stroke="#262626" stroke-width="1.0"/>
<path d="M453.90,179.80 L457.70,178.20 L457.70,181.40 Z" fill="#262626"/>
<path d="M464.50,186.70 L475.90,173.50" fill="none" stroke="#262626" stroke-width="1.0"/>
<path d="M475.90,173.50 L474.63,177.42 L472.21,175.33 Z" fill="#262626"/>
<path d="M464.50,172.90 L475.90,186.10" fill="none" stroke="#262626" stroke-width="1.0"/>
<path d="M475.90,186.10 L472.21,184.27 L474.63,182.18 Z" fill="#262626"/>
<path d="M475.90,173.50 L476.90,172.40 M475.90,186.10 L476.90,187.20" fill="none" stroke="#262626" stroke-width="1.0"/>
<path d="M476.90,180.90 h15.40 v6.30 h-15.40 Z" fill="none" stroke="#262626" stroke-width="1.0"/>
<path d="M482.62,181.20 L487.72,187.20" fill="none" stroke="#262626" stroke-width="0.75"/>
<path d="M477.21,173.60 C477.94,175.60 478.46,176.80 479.19,176.60 C480.23,176.20 481.27,173.40 482.62,173.50 C483.98,173.60 484.70,176.50 485.54,176.40 C486.37,176.30 486.89,174.20 487.72,173.80 L492.30,173.80 L492.30,180.90" fill="none" stroke="#262626" stroke-width="1.0"/>
<text x="451.60" y="171.20" font-size="6.7" fill="#1e1e1e" text-anchor="middle" font-weight="normal" stroke="#1e1e1e" stroke-width="0.25">A</text>
<text x="464.80" y="171.20" font-size="6.7" fill="#1e1e1e" text-anchor="middle" font-weight="normal" stroke="#1e1e1e" stroke-width="0.25">B</text>
<text x="451.60" y="193.40" font-size="6.7" fill="#1e1e1e" text-anchor="middle" font-weight="normal" stroke="#1e1e1e" stroke-width="0.25">P</text>
<text x="464.80" y="193.40" font-size="6.7" fill="#1e1e1e" text-anchor="middle" font-weight="normal" stroke="#1e1e1e" stroke-width="0.25">T</text>
<text x="391.00" y="184.15" font-size="14" fill="#363636" text-anchor="start" font-weight="normal" >a</text>
<text x="513.50" y="184.15" font-size="14" fill="#363636" text-anchor="start" font-weight="normal" >b</text>
<text x="313.20" y="219.40" font-size="14" fill="#363636" text-anchor="start" font-weight="normal" >2D8</text>
<path d="M423.30,215.80 h15.50 v6.30 h-15.50 Z" fill="none" stroke="#262626" stroke-width="1.0"/>
<path d="M430.80,222.10 L437.90,212.00" fill="none" stroke="#262626" stroke-width="0.8"/>
<path d="M432.20,211.30 L433.40,215.10 L434.90,211.30" fill="none" stroke="#262626" stroke-width="0.8"/>
<path d="M438.80,207.30 H476.90 V222.10 H438.80 Z" fill="none" stroke="#262626" stroke-width="1.0"/>
<path d="M450.40,207.30 V222.10 M464.00,207.30 V222.10" fill="none" stroke="#262626" stroke-width="1.0" stroke-dasharray="1.1,0.9"/>
<path d="M441.82,221.30 L441.82,208.20" fill="none" stroke="#262626" stroke-width="1.0"/>
<path d="M441.82,208.20 L443.42,212.00 L440.22,212.00 Z" fill="#262626"/>
<path d="M448.08,208.10 L448.08,221.20" fill="none" stroke="#262626" stroke-width="1.0"/>
<path d="M448.08,221.20 L446.48,217.40 L449.68,217.40 Z" fill="#262626"/>
<path d="M454.48,207.30 L454.48,211.50 M452.88,211.50 L456.08,211.50" fill="none" stroke="#262626" stroke-width="1.0"/>
<path d="M460.19,207.30 L460.19,211.50 M458.59,211.50 L461.79,211.50" fill="none" stroke="#262626" stroke-width="1.0"/>
<path d="M454.48,222.10 L454.48,217.90 M452.88,217.90 L456.08,217.90" fill="none" stroke="#262626" stroke-width="1.0"/>
<path d="M460.19,222.10 L460.19,217.90 M458.59,217.90 L461.79,217.90" fill="none" stroke="#262626" stroke-width="1.0"/>
<path d="M464.50,221.60 L476.30,208.00" fill="none" stroke="#262626" stroke-width="1.0"/>
<path d="M476.30,208.00 L475.02,211.92 L472.60,209.82 Z" fill="#262626"/>
<path d="M467.00,207.30 L467.00,210.30 M465.40,210.30 L468.60,210.30" fill="none" stroke="#262626" stroke-width="1.0"/>
<path d="M476.90,215.80 h15.40 v6.30 h-15.40 Z" fill="none" stroke="#262626" stroke-width="1.0"/>
<path d="M482.62,216.10 L487.72,222.10" fill="none" stroke="#262626" stroke-width="0.75"/>
<path d="M477.21,208.50 C477.94,210.50 478.46,211.70 479.19,211.50 C480.23,211.10 481.27,208.30 482.62,208.40 C483.98,208.50 484.70,211.40 485.54,211.30 C486.37,211.20 486.89,209.10 487.72,208.70 L492.30,208.70 L492.30,215.80" fill="none" stroke="#262626" stroke-width="1.0"/>
<text x="451.60" y="206.10" font-size="6.7" fill="#1e1e1e" text-anchor="middle" font-weight="normal" stroke="#1e1e1e" stroke-width="0.25">A</text>
<text x="464.80" y="206.10" font-size="6.7" fill="#1e1e1e" text-anchor="middle" font-weight="normal" stroke="#1e1e1e" stroke-width="0.25">B</text>
<text x="451.60" y="228.30" font-size="6.7" fill="#1e1e1e" text-anchor="middle" font-weight="normal" stroke="#1e1e1e" stroke-width="0.25">P</text>
<text x="464.80" y="228.30" font-size="6.7" fill="#1e1e1e" text-anchor="middle" font-weight="normal" stroke="#1e1e1e" stroke-width="0.25">T</text>
<text x="391.00" y="219.40" font-size="14" fill="#363636" text-anchor="start" font-weight="normal" >a</text>
<text x="513.50" y="219.40" font-size="14" fill="#363636" text-anchor="start" font-weight="normal" >b</text>
<text x="329.20" y="247.55" font-size="14" fill="#2a2a2a" stroke="#2a2a2a" stroke-width="0.15" text-anchor="middle">單頭二位</text>
<text x="329.20" y="265.55" font-size="14" fill="#2a2a2a" stroke="#2a2a2a" stroke-width="0.15" text-anchor="middle">彈簧復位</text>
<text x="455.00" y="255.25" font-size="14" fill="#2a2a2a" stroke="#2a2a2a" stroke-width="0.15" text-anchor="middle">液壓圖號(標準型)</text>
<text x="313.20" y="289.90" font-size="14" fill="#363636" text-anchor="start" font-weight="normal" >2B2</text>
<path d="M425.40,287.90 l1.5,4.0 l1.5,-4.0 l1.5,4.0 l2.0,-4.6" fill="none" stroke="#262626" stroke-width="0.65"/>
<path d="M432.20,278.20 H470.60 V292.60 H432.20 Z" fill="none" stroke="#262626" stroke-width="1.0"/>
<path d="M443.30,278.20 V292.60 M458.00,278.20 V292.60" fill="none" stroke="#262626" stroke-width="1.0" stroke-dasharray="1.1,0.9"/>
<path d="M435.20,291.80 L435.20,279.10" fill="none" stroke="#262626" stroke-width="1.0"/>
<path d="M435.20,279.10 L436.80,282.90 L433.60,282.90 Z" fill="#262626"/>
<path d="M441.80,279.00 L441.80,291.70" fill="none" stroke="#262626" stroke-width="1.0"/>
<path d="M441.80,291.70 L440.20,287.90 L443.40,287.90 Z" fill="#262626"/>
<path d="M447.71,278.20 L447.71,282.40 M446.11,282.40 L449.31,282.40" fill="none" stroke="#262626" stroke-width="1.0"/>
<path d="M453.88,278.20 L453.88,282.40 M452.28,282.40 L455.48,282.40" fill="none" stroke="#262626" stroke-width="1.0"/>
<path d="M447.71,292.60 L447.71,288.40 M446.11,288.40 L449.31,288.40" fill="none" stroke="#262626" stroke-width="1.0"/>
<path d="M453.88,292.60 L453.88,288.40 M452.28,288.40 L455.48,288.40" fill="none" stroke="#262626" stroke-width="1.0"/>
<path d="M458.50,292.10 L469.60,279.30" fill="none" stroke="#262626" stroke-width="1.0"/>
<path d="M469.60,279.30 L468.32,283.22 L465.90,281.12 Z" fill="#262626"/>
<path d="M458.50,278.70 L469.60,291.50" fill="none" stroke="#262626" stroke-width="1.0"/>
<path d="M469.60,291.50 L465.90,289.68 L468.32,287.58 Z" fill="#262626"/>
<path d="M469.60,279.30 L470.60,278.20 M469.60,291.50 L470.60,292.60" fill="none" stroke="#262626" stroke-width="1.0"/>
<path d="M470.60,286.30 h15.20 v6.30 h-15.20 Z" fill="none" stroke="#262626" stroke-width="1.0"/>
<path d="M475.16,286.90 L480.02,292.00" fill="none" stroke="#262626" stroke-width="0.7"/>
<text x="434.40" y="277.20" font-size="6.7" fill="#1e1e1e" text-anchor="middle" font-weight="normal" stroke="#1e1e1e" stroke-width="0.25">A</text>
<text x="440.50" y="277.20" font-size="6.7" fill="#1e1e1e" text-anchor="middle" font-weight="normal" stroke="#1e1e1e" stroke-width="0.25">B</text>
<text x="434.40" y="299.40" font-size="6.7" fill="#1e1e1e" text-anchor="middle" font-weight="normal" stroke="#1e1e1e" stroke-width="0.25">P</text>
<text x="440.50" y="299.40" font-size="6.7" fill="#1e1e1e" text-anchor="middle" font-weight="normal" stroke="#1e1e1e" stroke-width="0.25">T</text>
<text x="513.50" y="289.90" font-size="14" fill="#363636" text-anchor="start" font-weight="normal" >b</text>
<text x="313.20" y="325.15" font-size="14" fill="#363636" text-anchor="start" font-weight="normal" >2B3</text>
<path d="M425.40,322.40 l1.5,4.0 l1.5,-4.0 l1.5,4.0 l2.0,-4.6" fill="none" stroke="#262626" stroke-width="0.65"/>
<path d="M432.20,312.70 H470.60 V327.10 H432.20 Z" fill="none" stroke="#262626" stroke-width="1.0"/>
<path d="M443.30,312.70 V327.10 M458.00,312.70 V327.10" fill="none" stroke="#262626" stroke-width="1.0" stroke-dasharray="1.1,0.9"/>
<path d="M435.20,326.30 L435.20,313.60" fill="none" stroke="#262626" stroke-width="1.0"/>
<path d="M435.20,313.60 L436.80,317.40 L433.60,317.40 Z" fill="#262626"/>
<path d="M441.80,313.50 L441.80,326.20" fill="none" stroke="#262626" stroke-width="1.0"/>
<path d="M441.80,326.20 L440.20,322.40 L443.40,322.40 Z" fill="#262626"/>
<path d="M447.71,312.70 L447.71,327.10 M453.88,312.70 L453.88,327.10 M447.71,319.90 L453.88,319.90" fill="none" stroke="#262626" stroke-width="1.0"/>
<path d="M458.50,326.60 L469.60,313.80" fill="none" stroke="#262626" stroke-width="1.0"/>
<path d="M469.60,313.80 L468.32,317.72 L465.90,315.62 Z" fill="#262626"/>
<path d="M458.50,313.20 L469.60,326.00" fill="none" stroke="#262626" stroke-width="1.0"/>
<path d="M469.60,326.00 L465.90,324.18 L468.32,322.08 Z" fill="#262626"/>
<path d="M469.60,313.80 L470.60,312.70 M469.60,326.00 L470.60,327.10" fill="none" stroke="#262626" stroke-width="1.0"/>
<path d="M470.60,320.80 h15.20 v6.30 h-15.20 Z" fill="none" stroke="#262626" stroke-width="1.0"/>
<path d="M475.16,321.40 L480.02,326.50" fill="none" stroke="#262626" stroke-width="0.7"/>
<text x="434.40" y="311.70" font-size="6.7" fill="#1e1e1e" text-anchor="middle" font-weight="normal" stroke="#1e1e1e" stroke-width="0.25">A</text>
<text x="440.50" y="311.70" font-size="6.7" fill="#1e1e1e" text-anchor="middle" font-weight="normal" stroke="#1e1e1e" stroke-width="0.25">B</text>
<text x="434.40" y="333.90" font-size="6.7" fill="#1e1e1e" text-anchor="middle" font-weight="normal" stroke="#1e1e1e" stroke-width="0.25">P</text>
<text x="440.50" y="333.90" font-size="6.7" fill="#1e1e1e" text-anchor="middle" font-weight="normal" stroke="#1e1e1e" stroke-width="0.25">T</text>
<text x="513.50" y="325.15" font-size="14" fill="#363636" text-anchor="start" font-weight="normal" >b</text>
<text x="313.20" y="360.40" font-size="14" fill="#363636" text-anchor="start" font-weight="normal" >2B8</text>
<path d="M425.40,357.90 l1.5,4.0 l1.5,-4.0 l1.5,4.0 l2.0,-4.6" fill="none" stroke="#262626" stroke-width="0.65"/>
<path d="M432.20,348.20 H470.60 V362.60 H432.20 Z" fill="none" stroke="#262626" stroke-width="1.0"/>
<path d="M443.30,348.20 V362.60 M458.00,348.20 V362.60" fill="none" stroke="#262626" stroke-width="1.0" stroke-dasharray="1.1,0.9"/>
<path d="M435.20,361.80 L435.20,349.10" fill="none" stroke="#262626" stroke-width="1.0"/>
<path d="M435.20,349.10 L436.80,352.90 L433.60,352.90 Z" fill="#262626"/>
<path d="M441.80,349.00 L441.80,361.70" fill="none" stroke="#262626" stroke-width="1.0"/>
<path d="M441.80,361.70 L440.20,357.90 L443.40,357.90 Z" fill="#262626"/>
<path d="M447.71,348.20 L447.71,352.40 M446.11,352.40 L449.31,352.40" fill="none" stroke="#262626" stroke-width="1.0"/>
<path d="M453.88,348.20 L453.88,352.40 M452.28,352.40 L455.48,352.40" fill="none" stroke="#262626" stroke-width="1.0"/>
<path d="M447.71,362.60 L447.71,358.40 M446.11,358.40 L449.31,358.40" fill="none" stroke="#262626" stroke-width="1.0"/>
<path d="M453.88,362.60 L453.88,358.40 M452.28,358.40 L455.48,358.40" fill="none" stroke="#262626" stroke-width="1.0"/>
<path d="M458.50,362.10 L470.00,348.90" fill="none" stroke="#262626" stroke-width="1.0"/>
<path d="M470.00,348.90 L468.71,352.82 L466.30,350.71 Z" fill="#262626"/>
<path d="M461.00,348.20 L461.00,351.20 M459.40,351.20 L462.60,351.20" fill="none" stroke="#262626" stroke-width="1.0"/>
<path d="M470.60,356.30 h15.20 v6.30 h-15.20 Z" fill="none" stroke="#262626" stroke-width="1.0"/>
<path d="M475.16,356.90 L480.02,362.00" fill="none" stroke="#262626" stroke-width="0.7"/>
<text x="434.40" y="347.20" font-size="6.7" fill="#1e1e1e" text-anchor="middle" font-weight="normal" stroke="#1e1e1e" stroke-width="0.25">A</text>
<text x="440.50" y="347.20" font-size="6.7" fill="#1e1e1e" text-anchor="middle" font-weight="normal" stroke="#1e1e1e" stroke-width="0.25">B</text>
<text x="434.40" y="369.40" font-size="6.7" fill="#1e1e1e" text-anchor="middle" font-weight="normal" stroke="#1e1e1e" stroke-width="0.25">P</text>
<text x="440.50" y="369.40" font-size="6.7" fill="#1e1e1e" text-anchor="middle" font-weight="normal" stroke="#1e1e1e" stroke-width="0.25">T</text>
<text x="513.50" y="360.40" font-size="14" fill="#363636" text-anchor="start" font-weight="normal" >b</text>
<text x="329.20" y="388.55" font-size="14" fill="#2a2a2a" stroke="#2a2a2a" stroke-width="0.15" text-anchor="middle">單頭二位</text>
<text x="329.20" y="406.55" font-size="14" fill="#2a2a2a" stroke="#2a2a2a" stroke-width="0.15" text-anchor="middle">彈簧復位</text>
<text x="455.00" y="396.25" font-size="14" fill="#2a2a2a" stroke="#2a2a2a" stroke-width="0.15" text-anchor="middle">液壓圖號(逆組型)</text>
<text x="313.20" y="430.90" font-size="14" fill="#363636" text-anchor="start" font-weight="normal" >2B2L</text>
<path d="M417.10,428.60 h15.10 v5.60 h-15.10 Z" fill="none" stroke="#262626" stroke-width="1.0"/>
<path d="M421.63,433.60 L426.46,429.20" fill="none" stroke="#262626" stroke-width="0.7"/>
<path d="M432.20,419.50 H470.60 V434.20 H432.20 Z" fill="none" stroke="#262626" stroke-width="1.0"/>
<path d="M443.90,419.50 V434.20 M457.50,419.50 V434.20" fill="none" stroke="#262626" stroke-width="1.0" stroke-dasharray="1.1,0.9"/>
<path d="M435.40,433.40 L435.40,420.40" fill="none" stroke="#262626" stroke-width="1.0"/>
<path d="M435.40,420.40 L437.00,424.20 L433.80,424.20 Z" fill="#262626"/>
<path d="M441.80,420.30 L441.80,433.30" fill="none" stroke="#262626" stroke-width="1.0"/>
<path d="M441.80,433.30 L440.20,429.50 L443.40,429.50 Z" fill="#262626"/>
<path d="M447.98,419.50 L447.98,423.70 M446.38,423.70 L449.58,423.70" fill="none" stroke="#262626" stroke-width="1.0"/>
<path d="M453.69,419.50 L453.69,423.70 M452.09,423.70 L455.29,423.70" fill="none" stroke="#262626" stroke-width="1.0"/>
<path d="M447.98,434.20 L447.98,430.00 M446.38,430.00 L449.58,430.00" fill="none" stroke="#262626" stroke-width="1.0"/>
<path d="M453.69,434.20 L453.69,430.00 M452.09,430.00 L455.29,430.00" fill="none" stroke="#262626" stroke-width="1.0"/>
<path d="M458.00,433.70 L469.60,420.60" fill="none" stroke="#262626" stroke-width="1.0"/>
<path d="M469.60,420.60 L468.28,424.51 L465.88,422.38 Z" fill="#262626"/>
<path d="M458.00,420.00 L469.60,433.10" fill="none" stroke="#262626" stroke-width="1.0"/>
<path d="M469.60,433.10 L465.88,431.32 L468.28,429.19 Z" fill="#262626"/>
<path d="M469.60,420.60 L470.60,419.50 M469.60,433.10 L470.60,434.20" fill="none" stroke="#262626" stroke-width="1.0"/>
<path d="M471.40,429.50 l1.5,4.0 l1.5,-4.0 l1.5,4.0 l2.0,-4.6" fill="none" stroke="#262626" stroke-width="0.65"/>
<text x="462.40" y="418.00" font-size="6.7" fill="#1e1e1e" text-anchor="middle" font-weight="normal" stroke="#1e1e1e" stroke-width="0.25">A</text>
<text x="468.10" y="418.00" font-size="6.7" fill="#1e1e1e" text-anchor="middle" font-weight="normal" stroke="#1e1e1e" stroke-width="0.25">B</text>
<text x="462.40" y="440.20" font-size="6.7" fill="#1e1e1e" text-anchor="middle" font-weight="normal" stroke="#1e1e1e" stroke-width="0.25">P</text>
<text x="468.10" y="440.20" font-size="6.7" fill="#1e1e1e" text-anchor="middle" font-weight="normal" stroke="#1e1e1e" stroke-width="0.25">T</text>
<text x="391.00" y="430.90" font-size="14" fill="#363636" text-anchor="start" font-weight="normal" >a</text>
<text x="313.20" y="466.15" font-size="14" fill="#363636" text-anchor="start" font-weight="normal" >2B3L</text>
<path d="M417.10,462.50 h15.10 v5.60 h-15.10 Z" fill="none" stroke="#262626" stroke-width="1.0"/>
<path d="M421.63,467.50 L426.46,463.10" fill="none" stroke="#262626" stroke-width="0.7"/>
<path d="M432.20,453.40 H470.60 V468.10 H432.20 Z" fill="none" stroke="#262626" stroke-width="1.0"/>
<path d="M443.90,453.40 V468.10 M457.50,453.40 V468.10" fill="none" stroke="#262626" stroke-width="1.0" stroke-dasharray="1.1,0.9"/>
<path d="M435.40,467.30 L435.40,454.30" fill="none" stroke="#262626" stroke-width="1.0"/>
<path d="M435.40,454.30 L437.00,458.10 L433.80,458.10 Z" fill="#262626"/>
<path d="M441.80,454.20 L441.80,467.20" fill="none" stroke="#262626" stroke-width="1.0"/>
<path d="M441.80,467.20 L440.20,463.40 L443.40,463.40 Z" fill="#262626"/>
<path d="M447.98,453.40 L447.98,468.10 M453.69,453.40 L453.69,468.10 M447.98,460.75 L453.69,460.75" fill="none" stroke="#262626" stroke-width="1.0"/>
<path d="M458.00,467.60 L469.60,454.50" fill="none" stroke="#262626" stroke-width="1.0"/>
<path d="M469.60,454.50 L468.28,458.41 L465.88,456.28 Z" fill="#262626"/>
<path d="M458.00,453.90 L469.60,467.00" fill="none" stroke="#262626" stroke-width="1.0"/>
<path d="M469.60,467.00 L465.88,465.22 L468.28,463.09 Z" fill="#262626"/>
<path d="M469.60,454.50 L470.60,453.40 M469.60,467.00 L470.60,468.10" fill="none" stroke="#262626" stroke-width="1.0"/>
<path d="M471.40,463.40 l1.5,4.0 l1.5,-4.0 l1.5,4.0 l2.0,-4.6" fill="none" stroke="#262626" stroke-width="0.65"/>
<text x="462.40" y="451.90" font-size="6.7" fill="#1e1e1e" text-anchor="middle" font-weight="normal" stroke="#1e1e1e" stroke-width="0.25">A</text>
<text x="468.10" y="451.90" font-size="6.7" fill="#1e1e1e" text-anchor="middle" font-weight="normal" stroke="#1e1e1e" stroke-width="0.25">B</text>
<text x="462.40" y="474.10" font-size="6.7" fill="#1e1e1e" text-anchor="middle" font-weight="normal" stroke="#1e1e1e" stroke-width="0.25">P</text>
<text x="468.10" y="474.10" font-size="6.7" fill="#1e1e1e" text-anchor="middle" font-weight="normal" stroke="#1e1e1e" stroke-width="0.25">T</text>
<text x="391.00" y="466.15" font-size="14" fill="#363636" text-anchor="start" font-weight="normal" >a</text>
<text x="313.20" y="501.40" font-size="14" fill="#363636" text-anchor="start" font-weight="normal" >2B8L</text>
<path d="M417.10,498.40 h15.10 v5.60 h-15.10 Z" fill="none" stroke="#262626" stroke-width="1.0"/>
<path d="M421.63,503.40 L426.46,499.00" fill="none" stroke="#262626" stroke-width="0.7"/>
<path d="M432.20,489.30 H470.60 V504.00 H432.20 Z" fill="none" stroke="#262626" stroke-width="1.0"/>
<path d="M443.90,489.30 V504.00 M457.50,489.30 V504.00" fill="none" stroke="#262626" stroke-width="1.0" stroke-dasharray="1.1,0.9"/>
<path d="M435.40,503.20 L435.40,490.20" fill="none" stroke="#262626" stroke-width="1.0"/>
<path d="M435.40,490.20 L437.00,494.00 L433.80,494.00 Z" fill="#262626"/>
<path d="M441.80,490.10 L441.80,503.10" fill="none" stroke="#262626" stroke-width="1.0"/>
<path d="M441.80,503.10 L440.20,499.30 L443.40,499.30 Z" fill="#262626"/>
<path d="M447.98,489.30 L447.98,493.50 M446.38,493.50 L449.58,493.50" fill="none" stroke="#262626" stroke-width="1.0"/>
<path d="M453.69,489.30 L453.69,493.50 M452.09,493.50 L455.29,493.50" fill="none" stroke="#262626" stroke-width="1.0"/>
<path d="M447.98,504.00 L447.98,499.80 M446.38,499.80 L449.58,499.80" fill="none" stroke="#262626" stroke-width="1.0"/>
<path d="M453.69,504.00 L453.69,499.80 M452.09,499.80 L455.29,499.80" fill="none" stroke="#262626" stroke-width="1.0"/>
<path d="M458.00,503.50 L470.00,490.00" fill="none" stroke="#262626" stroke-width="1.0"/>
<path d="M470.00,490.00 L468.67,493.90 L466.28,491.78 Z" fill="#262626"/>
<path d="M468.60,504.00 L468.60,501.00 M467.00,501.00 L470.20,501.00" fill="none" stroke="#262626" stroke-width="1.0"/>
<path d="M471.40,499.30 l1.5,4.0 l1.5,-4.0 l1.5,4.0 l2.0,-4.6" fill="none" stroke="#262626" stroke-width="0.65"/>
<text x="462.40" y="487.80" font-size="6.7" fill="#1e1e1e" text-anchor="middle" font-weight="normal" stroke="#1e1e1e" stroke-width="0.25">A</text>
<text x="468.10" y="487.80" font-size="6.7" fill="#1e1e1e" text-anchor="middle" font-weight="normal" stroke="#1e1e1e" stroke-width="0.25">B</text>
<text x="462.40" y="510.00" font-size="6.7" fill="#1e1e1e" text-anchor="middle" font-weight="normal" stroke="#1e1e1e" stroke-width="0.25">P</text>
<text x="468.10" y="510.00" font-size="6.7" fill="#1e1e1e" text-anchor="middle" font-weight="normal" stroke="#1e1e1e" stroke-width="0.25">T</text>
<text x="391.00" y="501.40" font-size="14" fill="#363636" text-anchor="start" font-weight="normal" >a</text>
<rect x="572.50" y="45.00" width="252.00" height="47.25" fill="#72a8d5"/>
<rect x="572.50" y="127.50" width="71.00" height="35.25" fill="#c5d9e7"/>
<rect x="572.50" y="198.00" width="71.00" height="35.25" fill="#c5d9e7"/>
<rect x="572.50" y="268.50" width="71.00" height="35.25" fill="#c5d9e7"/>
<rect x="572.50" y="339.00" width="71.00" height="35.25" fill="#c5d9e7"/>
<rect x="572.50" y="409.50" width="71.00" height="35.25" fill="#c5d9e7"/>
<rect x="572.50" y="480.00" width="71.00" height="35.25" fill="#c5d9e7"/>
<line x1="572.50" y1="127.50" x2="824.50" y2="127.50" stroke="#42474d" stroke-width="1.4" />
<line x1="572.50" y1="162.75" x2="824.50" y2="162.75" stroke="#42474d" stroke-width="1.4" />
<line x1="572.50" y1="198.00" x2="824.50" y2="198.00" stroke="#42474d" stroke-width="1.4" />
<line x1="572.50" y1="233.25" x2="824.50" y2="233.25" stroke="#42474d" stroke-width="1.4" />
<line x1="572.50" y1="268.50" x2="824.50" y2="268.50" stroke="#42474d" stroke-width="1.4" />
<line x1="572.50" y1="303.75" x2="824.50" y2="303.75" stroke="#42474d" stroke-width="1.4" />
<line x1="572.50" y1="339.00" x2="824.50" y2="339.00" stroke="#42474d" stroke-width="1.4" />
<line x1="572.50" y1="374.25" x2="824.50" y2="374.25" stroke="#42474d" stroke-width="1.4" />
<line x1="572.50" y1="409.50" x2="824.50" y2="409.50" stroke="#42474d" stroke-width="1.4" />
<line x1="572.50" y1="444.75" x2="824.50" y2="444.75" stroke="#42474d" stroke-width="1.4" />
<line x1="572.50" y1="480.00" x2="824.50" y2="480.00" stroke="#42474d" stroke-width="1.4" />
<line x1="572.50" y1="515.25" x2="824.50" y2="515.25" stroke="#42474d" stroke-width="1.4" />
<line x1="572.50" y1="92.25" x2="824.50" y2="92.25" stroke="#1c2c44" stroke-width="1.4" />
<line x1="572.50" y1="45.00" x2="824.50" y2="45.00" stroke="#3c4a5a" stroke-width="1.4" />
<line x1="572.50" y1="45.00" x2="572.50" y2="515.25" stroke="#42474d" stroke-width="1.2" />
<line x1="824.50" y1="45.00" x2="824.50" y2="515.25" stroke="#42474d" stroke-width="1.2" />
<line x1="643.50" y1="45.00" x2="643.50" y2="92.25" stroke="#1e3a5e" stroke-width="1.3" />
<line x1="643.50" y1="92.25" x2="643.50" y2="515.25" stroke="#42474d" stroke-width="1.2" />
<text x="607.70" y="64.80" font-size="14" fill="#1b2c44" stroke="#1b2c44" stroke-width="0.15" text-anchor="middle">雙頭二位</text>
<text x="607.70" y="83.10" font-size="14" fill="#1b2c44" stroke="#1b2c44" stroke-width="0.15" text-anchor="middle">機械定位</text>
<text x="733.50" y="72.60" font-size="14" fill="#1b2c44" stroke="#1b2c44" stroke-width="0.15" text-anchor="middle">液壓圖號(標準型)</text>
<text x="586.20" y="113.65" font-size="14" fill="#363636" text-anchor="start" font-weight="normal" >2D2A</text>
<path d="M704.30,111.60 h15.00 v5.80 h-15.00 Z" fill="none" stroke="#262626" stroke-width="1.0"/>
<path d="M711.80,117.40 L718.90,107.80" fill="none" stroke="#262626" stroke-width="0.8"/>
<path d="M713.20,107.10 L714.40,110.90 L715.90,107.10" fill="none" stroke="#262626" stroke-width="0.8"/>
<path d="M719.30,103.50 H746.50 V117.40 H719.30 Z" fill="none" stroke="#262626" stroke-width="1.0"/>
<path d="M732.20,103.50 V117.40" fill="none" stroke="#262626" stroke-width="1.2"/>
<path d="M722.50,116.60 L722.50,104.40" fill="none" stroke="#262626" stroke-width="1.0"/>
<path d="M722.50,104.40 L724.10,108.20 L720.90,108.20 Z" fill="#262626"/>
<path d="M729.20,104.30 L729.20,116.50" fill="none" stroke="#262626" stroke-width="1.0"/>
<path d="M729.20,116.50 L727.60,112.70 L730.80,112.70 Z" fill="#262626"/>
<path d="M736.20,102.00 V106.70 M734.70,106.70 H737.70" fill="none" stroke="#262626" stroke-width="1.0"/>
<path d="M736.20,118.90 V114.20 M734.70,114.20 H737.70" fill="none" stroke="#262626" stroke-width="1.0"/>
<path d="M741.50,102.00 V106.70 M740.00,106.70 H743.00" fill="none" stroke="#262626" stroke-width="1.0"/>
<path d="M741.50,118.90 V114.20 M740.00,114.20 H743.00" fill="none" stroke="#262626" stroke-width="1.0"/>
<path d="M746.50,111.60 h15.20 v5.80 h-15.20 Z" fill="none" stroke="#262626" stroke-width="1.0"/>
<path d="M752.15,111.90 L757.18,117.40" fill="none" stroke="#262626" stroke-width="0.75"/>
<path d="M746.81,105.50 C747.53,107.50 748.04,108.70 748.76,108.50 C749.79,108.10 750.81,105.30 752.15,105.40 C753.48,105.50 754.20,108.40 755.02,108.30 C755.85,108.20 756.36,106.10 757.18,105.70 L761.70,105.70 L761.70,111.60" fill="none" stroke="#262626" stroke-width="1.0"/>
<text x="722.50" y="102.00" font-size="6.7" fill="#1e1e1e" text-anchor="middle" font-weight="normal" stroke="#1e1e1e" stroke-width="0.25">A</text>
<text x="729.40" y="102.00" font-size="6.7" fill="#1e1e1e" text-anchor="middle" font-weight="normal" stroke="#1e1e1e" stroke-width="0.25">B</text>
<text x="722.50" y="123.70" font-size="6.7" fill="#1e1e1e" text-anchor="middle" font-weight="normal" stroke="#1e1e1e" stroke-width="0.25">P</text>
<text x="729.40" y="123.70" font-size="6.7" fill="#1e1e1e" text-anchor="middle" font-weight="normal" stroke="#1e1e1e" stroke-width="0.25">T</text>
<text x="669.50" y="113.65" font-size="14" fill="#363636" text-anchor="start" font-weight="normal" >a</text>
<text x="792.00" y="113.65" font-size="14" fill="#363636" text-anchor="start" font-weight="normal" >b</text>
<text x="586.20" y="148.90" font-size="14" fill="#363636" text-anchor="start" font-weight="normal" >2D3A</text>
<path d="M704.30,146.70 h15.00 v5.80 h-15.00 Z" fill="none" stroke="#262626" stroke-width="1.0"/>
<path d="M711.80,152.50 L718.90,142.90" fill="none" stroke="#262626" stroke-width="0.8"/>
<path d="M713.20,142.20 L714.40,146.00 L715.90,142.20" fill="none" stroke="#262626" stroke-width="0.8"/>
<path d="M719.30,138.60 H746.50 V152.50 H719.30 Z" fill="none" stroke="#262626" stroke-width="1.0"/>
<path d="M732.20,138.60 V152.50" fill="none" stroke="#262626" stroke-width="1.2"/>
<path d="M722.50,151.70 L722.50,139.50" fill="none" stroke="#262626" stroke-width="1.0"/>
<path d="M722.50,139.50 L724.10,143.30 L720.90,143.30 Z" fill="#262626"/>
<path d="M729.20,139.40 L729.20,151.60" fill="none" stroke="#262626" stroke-width="1.0"/>
<path d="M729.20,151.60 L727.60,147.80 L730.80,147.80 Z" fill="#262626"/>
<path d="M736.20,138.60 V152.50 M741.50,138.60 V152.50 M736.20,145.55 H741.50" fill="none" stroke="#262626" stroke-width="1.0"/>
<path d="M746.50,146.70 h15.20 v5.80 h-15.20 Z" fill="none" stroke="#262626" stroke-width="1.0"/>
<path d="M752.15,147.00 L757.18,152.50" fill="none" stroke="#262626" stroke-width="0.75"/>
<path d="M746.81,140.60 C747.53,142.60 748.04,143.80 748.76,143.60 C749.79,143.20 750.81,140.40 752.15,140.50 C753.48,140.60 754.20,143.50 755.02,143.40 C755.85,143.30 756.36,141.20 757.18,140.80 L761.70,140.80 L761.70,146.70" fill="none" stroke="#262626" stroke-width="1.0"/>
<text x="722.50" y="137.10" font-size="6.7" fill="#1e1e1e" text-anchor="middle" font-weight="normal" stroke="#1e1e1e" stroke-width="0.25">A</text>
<text x="729.40" y="137.10" font-size="6.7" fill="#1e1e1e" text-anchor="middle" font-weight="normal" stroke="#1e1e1e" stroke-width="0.25">B</text>
<text x="722.50" y="158.80" font-size="6.7" fill="#1e1e1e" text-anchor="middle" font-weight="normal" stroke="#1e1e1e" stroke-width="0.25">P</text>
<text x="729.40" y="158.80" font-size="6.7" fill="#1e1e1e" text-anchor="middle" font-weight="normal" stroke="#1e1e1e" stroke-width="0.25">T</text>
<text x="669.50" y="148.90" font-size="14" fill="#363636" text-anchor="start" font-weight="normal" >a</text>
<text x="792.00" y="148.90" font-size="14" fill="#363636" text-anchor="start" font-weight="normal" >b</text>
<text x="586.20" y="184.15" font-size="14" fill="#363636" text-anchor="start" font-weight="normal" >2D4A</text>
<path d="M704.30,184.40 h15.00 v5.80 h-15.00 Z" fill="none" stroke="#262626" stroke-width="1.0"/>
<path d="M711.80,190.20 L718.90,180.60" fill="none" stroke="#262626" stroke-width="0.8"/>
<path d="M713.20,179.90 L714.40,183.70 L715.90,179.90" fill="none" stroke="#262626" stroke-width="0.8"/>
<path d="M719.30,176.30 H746.50 V190.20 H719.30 Z" fill="none" stroke="#262626" stroke-width="1.0"/>
<path d="M732.20,176.30 V190.20" fill="none" stroke="#262626" stroke-width="1.2"/>
<path d="M722.50,189.40 L722.50,177.20" fill="none" stroke="#262626" stroke-width="1.0"/>
<path d="M722.50,177.20 L724.10,181.00 L720.90,181.00 Z" fill="#262626"/>
<path d="M729.20,177.10 L729.20,189.30" fill="none" stroke="#262626" stroke-width="1.0"/>
<path d="M729.20,189.30 L727.60,185.50 L730.80,185.50 Z" fill="#262626"/>
<path d="M736.20,176.30 V183.25 H741.50 V176.30" fill="none" stroke="#262626" stroke-width="1.0"/>
<path d="M736.20,190.20 V187.00 M734.70,187.00 H737.70" fill="none" stroke="#262626" stroke-width="1.0"/>
<path d="M746.50,184.40 h15.20 v5.80 h-15.20 Z" fill="none" stroke="#262626" stroke-width="1.0"/>
<path d="M752.15,184.70 L757.18,190.20" fill="none" stroke="#262626" stroke-width="0.75"/>
<path d="M746.81,178.30 C747.53,180.30 748.04,181.50 748.76,181.30 C749.79,180.90 750.81,178.10 752.15,178.20 C753.48,178.30 754.20,181.20 755.02,181.10 C755.85,181.00 756.36,178.90 757.18,178.50 L761.70,178.50 L761.70,184.40" fill="none" stroke="#262626" stroke-width="1.0"/>
<text x="722.50" y="174.80" font-size="6.7" fill="#1e1e1e" text-anchor="middle" font-weight="normal" stroke="#1e1e1e" stroke-width="0.25">A</text>
<text x="729.40" y="174.80" font-size="6.7" fill="#1e1e1e" text-anchor="middle" font-weight="normal" stroke="#1e1e1e" stroke-width="0.25">B</text>
<text x="722.50" y="196.50" font-size="6.7" fill="#1e1e1e" text-anchor="middle" font-weight="normal" stroke="#1e1e1e" stroke-width="0.25">P</text>
<text x="729.40" y="196.50" font-size="6.7" fill="#1e1e1e" text-anchor="middle" font-weight="normal" stroke="#1e1e1e" stroke-width="0.25">T</text>
<text x="669.50" y="184.15" font-size="14" fill="#363636" text-anchor="start" font-weight="normal" >a</text>
<text x="792.00" y="184.15" font-size="14" fill="#363636" text-anchor="start" font-weight="normal" >b</text>
<text x="586.20" y="219.40" font-size="14" fill="#363636" text-anchor="start" font-weight="normal" >2D40A</text>
<path d="M704.30,216.35 h15.00 v5.80 h-15.00 Z" fill="none" stroke="#262626" stroke-width="1.0"/>
<path d="M711.80,222.15 L718.90,212.55" fill="none" stroke="#262626" stroke-width="0.8"/>
<path d="M713.20,211.85 L714.40,215.65 L715.90,211.85" fill="none" stroke="#262626" stroke-width="0.8"/>
<path d="M719.30,208.25 H746.50 V222.15 H719.30 Z" fill="none" stroke="#262626" stroke-width="1.0"/>
<path d="M732.20,208.25 V222.15" fill="none" stroke="#262626" stroke-width="1.2"/>
<path d="M722.50,221.35 L722.50,209.15" fill="none" stroke="#262626" stroke-width="1.0"/>
<path d="M722.50,209.15 L724.10,212.95 L720.90,212.95 Z" fill="#262626"/>
<path d="M729.20,209.05 L729.20,221.25" fill="none" stroke="#262626" stroke-width="1.0"/>
<path d="M729.20,221.25 L727.60,217.45 L730.80,217.45 Z" fill="#262626"/>
<path d="M736.20,215.90 H741.50 M736.20,215.90 V222.15 M741.50,215.90 V222.15" fill="none" stroke="#262626" stroke-width="1.0"/>
<path d="M736.20,208.25 V211.25 M734.70,211.25 H737.70 M741.50,208.25 V211.25 M740.00,211.25 H743.00" fill="none" stroke="#262626" stroke-width="1.0"/>
<path d="M746.50,216.35 h15.20 v5.80 h-15.20 Z" fill="none" stroke="#262626" stroke-width="1.0"/>
<path d="M752.15,216.65 L757.18,222.15" fill="none" stroke="#262626" stroke-width="0.75"/>
<path d="M746.81,210.25 C747.53,212.25 748.04,213.45 748.76,213.25 C749.79,212.85 750.81,210.05 752.15,210.15 C753.48,210.25 754.20,213.15 755.02,213.05 C755.85,212.95 756.36,210.85 757.18,210.45 L761.70,210.45 L761.70,216.35" fill="none" stroke="#262626" stroke-width="1.0"/>
<text x="722.50" y="206.75" font-size="6.7" fill="#1e1e1e" text-anchor="middle" font-weight="normal" stroke="#1e1e1e" stroke-width="0.25">A</text>
<text x="729.40" y="206.75" font-size="6.7" fill="#1e1e1e" text-anchor="middle" font-weight="normal" stroke="#1e1e1e" stroke-width="0.25">B</text>
<text x="722.50" y="228.45" font-size="6.7" fill="#1e1e1e" text-anchor="middle" font-weight="normal" stroke="#1e1e1e" stroke-width="0.25">P</text>
<text x="729.40" y="228.45" font-size="6.7" fill="#1e1e1e" text-anchor="middle" font-weight="normal" stroke="#1e1e1e" stroke-width="0.25">T</text>
<text x="669.50" y="219.40" font-size="14" fill="#363636" text-anchor="start" font-weight="normal" >a</text>
<text x="792.00" y="219.40" font-size="14" fill="#363636" text-anchor="start" font-weight="normal" >b</text>
<text x="586.20" y="254.65" font-size="14" fill="#363636" text-anchor="start" font-weight="normal" >2D5A</text>
<path d="M704.30,251.60 h15.00 v5.80 h-15.00 Z" fill="none" stroke="#262626" stroke-width="1.0"/>
<path d="M711.80,257.40 L718.90,247.80" fill="none" stroke="#262626" stroke-width="0.8"/>
<path d="M713.20,247.10 L714.40,250.90 L715.90,247.10" fill="none" stroke="#262626" stroke-width="0.8"/>
<path d="M719.30,243.50 H746.50 V257.40 H719.30 Z" fill="none" stroke="#262626" stroke-width="1.0"/>
<path d="M732.20,243.50 V257.40" fill="none" stroke="#262626" stroke-width="1.2"/>
<path d="M722.50,256.60 L722.50,244.40" fill="none" stroke="#262626" stroke-width="1.0"/>
<path d="M722.50,244.40 L724.10,248.20 L720.90,248.20 Z" fill="#262626"/>
<path d="M729.20,244.30 L729.20,256.50" fill="none" stroke="#262626" stroke-width="1.0"/>
<path d="M729.20,256.50 L727.60,252.70 L730.80,252.70 Z" fill="#262626"/>
<path d="M736.20,243.50 V257.40 M736.20,250.45 H743.00 M743.00,242.30 V257.40" fill="none" stroke="#262626" stroke-width="1.0"/>
<path d="M746.50,251.60 h15.20 v5.80 h-15.20 Z" fill="none" stroke="#262626" stroke-width="1.0"/>
<path d="M752.15,251.90 L757.18,257.40" fill="none" stroke="#262626" stroke-width="0.75"/>
<path d="M746.81,245.50 C747.53,247.50 748.04,248.70 748.76,248.50 C749.79,248.10 750.81,245.30 752.15,245.40 C753.48,245.50 754.20,248.40 755.02,248.30 C755.85,248.20 756.36,246.10 757.18,245.70 L761.70,245.70 L761.70,251.60" fill="none" stroke="#262626" stroke-width="1.0"/>
<text x="722.50" y="242.00" font-size="6.7" fill="#1e1e1e" text-anchor="middle" font-weight="normal" stroke="#1e1e1e" stroke-width="0.25">A</text>
<text x="729.40" y="242.00" font-size="6.7" fill="#1e1e1e" text-anchor="middle" font-weight="normal" stroke="#1e1e1e" stroke-width="0.25">B</text>
<text x="722.50" y="263.70" font-size="6.7" fill="#1e1e1e" text-anchor="middle" font-weight="normal" stroke="#1e1e1e" stroke-width="0.25">P</text>
<text x="729.40" y="263.70" font-size="6.7" fill="#1e1e1e" text-anchor="middle" font-weight="normal" stroke="#1e1e1e" stroke-width="0.25">T</text>
<text x="669.50" y="254.65" font-size="14" fill="#363636" text-anchor="start" font-weight="normal" >a</text>
<text x="792.00" y="254.65" font-size="14" fill="#363636" text-anchor="start" font-weight="normal" >b</text>
<text x="586.20" y="289.90" font-size="14" fill="#363636" text-anchor="start" font-weight="normal" >2D7A</text>
<path d="M704.30,285.40 h15.00 v5.80 h-15.00 Z" fill="none" stroke="#262626" stroke-width="1.0"/>
<path d="M711.80,291.20 L718.90,281.60" fill="none" stroke="#262626" stroke-width="0.8"/>
<path d="M713.20,280.90 L714.40,284.70 L715.90,280.90" fill="none" stroke="#262626" stroke-width="0.8"/>
<path d="M719.30,277.30 H746.50 V291.20 H719.30 Z" fill="none" stroke="#262626" stroke-width="1.0"/>
<path d="M732.20,277.30 V291.20" fill="none" stroke="#262626" stroke-width="1.2"/>
<path d="M722.50,290.40 L722.50,278.20" fill="none" stroke="#262626" stroke-width="1.0"/>
<path d="M722.50,278.20 L724.10,282.00 L720.90,282.00 Z" fill="#262626"/>
<path d="M729.20,278.10 L729.20,290.30" fill="none" stroke="#262626" stroke-width="1.0"/>
<path d="M729.20,290.30 L727.60,286.50 L730.80,286.50 Z" fill="#262626"/>
<path d="M734.70,277.30 V291.20" fill="none" stroke="#262626" stroke-width="1.0"/>
<path d="M741.50,284.25 L736.70,284.25" fill="none" stroke="#262626" stroke-width="1.0"/>
<path d="M736.70,284.25 L740.50,282.65 L740.50,285.85 Z" fill="#262626"/>
<path d="M743.00,276.10 V291.20" fill="none" stroke="#262626" stroke-width="0.7"/>
<path d="M746.50,285.40 h15.20 v5.80 h-15.20 Z" fill="none" stroke="#262626" stroke-width="1.0"/>
<path d="M752.15,285.70 L757.18,291.20" fill="none" stroke="#262626" stroke-width="0.75"/>
<path d="M746.81,279.30 C747.53,281.30 748.04,282.50 748.76,282.30 C749.79,281.90 750.81,279.10 752.15,279.20 C753.48,279.30 754.20,282.20 755.02,282.10 C755.85,282.00 756.36,279.90 757.18,279.50 L761.70,279.50 L761.70,285.40" fill="none" stroke="#262626" stroke-width="1.0"/>
<text x="722.50" y="275.80" font-size="6.7" fill="#1e1e1e" text-anchor="middle" font-weight="normal" stroke="#1e1e1e" stroke-width="0.25">A</text>
<text x="729.40" y="275.80" font-size="6.7" fill="#1e1e1e" text-anchor="middle" font-weight="normal" stroke="#1e1e1e" stroke-width="0.25">B</text>
<text x="722.50" y="297.50" font-size="6.7" fill="#1e1e1e" text-anchor="middle" font-weight="normal" stroke="#1e1e1e" stroke-width="0.25">P</text>
<text x="729.40" y="297.50" font-size="6.7" fill="#1e1e1e" text-anchor="middle" font-weight="normal" stroke="#1e1e1e" stroke-width="0.25">T</text>
<text x="669.50" y="289.90" font-size="14" fill="#363636" text-anchor="start" font-weight="normal" >a</text>
<text x="792.00" y="289.90" font-size="14" fill="#363636" text-anchor="start" font-weight="normal" >b</text>
<text x="586.20" y="325.15" font-size="14" fill="#363636" text-anchor="start" font-weight="normal" >2D9A</text>
<path d="M704.30,321.60 h15.00 v5.80 h-15.00 Z" fill="none" stroke="#262626" stroke-width="1.0"/>
<path d="M711.80,327.40 L718.90,317.80" fill="none" stroke="#262626" stroke-width="0.8"/>
<path d="M713.20,317.10 L714.40,320.90 L715.90,317.10" fill="none" stroke="#262626" stroke-width="0.8"/>
<path d="M719.30,313.50 H746.50 V327.40 H719.30 Z" fill="none" stroke="#262626" stroke-width="1.0"/>
<path d="M732.20,313.50 V327.40" fill="none" stroke="#262626" stroke-width="1.2"/>
<path d="M722.50,326.60 L722.50,314.40" fill="none" stroke="#262626" stroke-width="1.0"/>
<path d="M722.50,314.40 L724.10,318.20 L720.90,318.20 Z" fill="#262626"/>
<path d="M729.20,314.30 L729.20,326.50" fill="none" stroke="#262626" stroke-width="1.0"/>
<path d="M729.20,326.50 L727.60,322.70 L730.80,322.70 Z" fill="#262626"/>
<path d="M734.70,313.50 V327.40 M734.70,320.45 H743.00 M743.00,320.45 V328.60" fill="none" stroke="#262626" stroke-width="1.0"/>
<path d="M746.50,321.60 h15.20 v5.80 h-15.20 Z" fill="none" stroke="#262626" stroke-width="1.0"/>
<path d="M752.15,321.90 L757.18,327.40" fill="none" stroke="#262626" stroke-width="0.75"/>
<path d="M746.81,315.50 C747.53,317.50 748.04,318.70 748.76,318.50 C749.79,318.10 750.81,315.30 752.15,315.40 C753.48,315.50 754.20,318.40 755.02,318.30 C755.85,318.20 756.36,316.10 757.18,315.70 L761.70,315.70 L761.70,321.60" fill="none" stroke="#262626" stroke-width="1.0"/>
<text x="722.50" y="312.00" font-size="6.7" fill="#1e1e1e" text-anchor="middle" font-weight="normal" stroke="#1e1e1e" stroke-width="0.25">A</text>
<text x="729.40" y="312.00" font-size="6.7" fill="#1e1e1e" text-anchor="middle" font-weight="normal" stroke="#1e1e1e" stroke-width="0.25">B</text>
<text x="722.50" y="333.70" font-size="6.7" fill="#1e1e1e" text-anchor="middle" font-weight="normal" stroke="#1e1e1e" stroke-width="0.25">P</text>
<text x="729.40" y="333.70" font-size="6.7" fill="#1e1e1e" text-anchor="middle" font-weight="normal" stroke="#1e1e1e" stroke-width="0.25">T</text>
<text x="669.50" y="325.15" font-size="14" fill="#363636" text-anchor="start" font-weight="normal" >a</text>
<text x="792.00" y="325.15" font-size="14" fill="#363636" text-anchor="start" font-weight="normal" >b</text>
<text x="586.20" y="360.40" font-size="14" fill="#363636" text-anchor="start" font-weight="normal" >2D10A</text>
<path d="M704.30,356.35 h15.00 v5.80 h-15.00 Z" fill="none" stroke="#262626" stroke-width="1.0"/>
<path d="M711.80,362.15 L718.90,352.55" fill="none" stroke="#262626" stroke-width="0.8"/>
<path d="M713.20,351.85 L714.40,355.65 L715.90,351.85" fill="none" stroke="#262626" stroke-width="0.8"/>
<path d="M719.30,348.25 H746.50 V362.15 H719.30 Z" fill="none" stroke="#262626" stroke-width="1.0"/>
<path d="M732.20,348.25 V362.15" fill="none" stroke="#262626" stroke-width="1.2"/>
<path d="M722.50,361.35 L722.50,349.15" fill="none" stroke="#262626" stroke-width="1.0"/>
<path d="M722.50,349.15 L724.10,352.95 L720.90,352.95 Z" fill="#262626"/>
<path d="M729.20,349.05 L729.20,361.25" fill="none" stroke="#262626" stroke-width="1.0"/>
<path d="M729.20,361.25 L727.60,357.45 L730.80,357.45 Z" fill="#262626"/>
<path d="M736.20,362.15 V358.95 M734.70,358.95 H737.70" fill="none" stroke="#262626" stroke-width="1.0"/>
<path d="M741.50,346.75 V352.45 M740.00,352.45 H743.00" fill="none" stroke="#262626" stroke-width="1.0"/>
<path d="M736.20,351.25 V355.25" fill="none" stroke="#262626" stroke-width="0.6"/>
<path d="M746.50,356.35 h15.20 v5.80 h-15.20 Z" fill="none" stroke="#262626" stroke-width="1.0"/>
<path d="M752.15,356.65 L757.18,362.15" fill="none" stroke="#262626" stroke-width="0.75"/>
<path d="M746.81,350.25 C747.53,352.25 748.04,353.45 748.76,353.25 C749.79,352.85 750.81,350.05 752.15,350.15 C753.48,350.25 754.20,353.15 755.02,353.05 C755.85,352.95 756.36,350.85 757.18,350.45 L761.70,350.45 L761.70,356.35" fill="none" stroke="#262626" stroke-width="1.0"/>
<text x="722.50" y="346.75" font-size="6.7" fill="#1e1e1e" text-anchor="middle" font-weight="normal" stroke="#1e1e1e" stroke-width="0.25">A</text>
<text x="729.40" y="346.75" font-size="6.7" fill="#1e1e1e" text-anchor="middle" font-weight="normal" stroke="#1e1e1e" stroke-width="0.25">B</text>
<text x="722.50" y="368.45" font-size="6.7" fill="#1e1e1e" text-anchor="middle" font-weight="normal" stroke="#1e1e1e" stroke-width="0.25">P</text>
<text x="729.40" y="368.45" font-size="6.7" fill="#1e1e1e" text-anchor="middle" font-weight="normal" stroke="#1e1e1e" stroke-width="0.25">T</text>
<text x="669.50" y="360.40" font-size="14" fill="#363636" text-anchor="start" font-weight="normal" >a</text>
<text x="792.00" y="360.40" font-size="14" fill="#363636" text-anchor="start" font-weight="normal" >b</text>
<text x="586.20" y="395.65" font-size="14" fill="#363636" text-anchor="start" font-weight="normal" >2D11A</text>
<path d="M704.30,392.10 h15.00 v5.80 h-15.00 Z" fill="none" stroke="#262626" stroke-width="1.0"/>
<path d="M711.80,397.90 L718.90,388.30" fill="none" stroke="#262626" stroke-width="0.8"/>
<path d="M713.20,387.60 L714.40,391.40 L715.90,387.60" fill="none" stroke="#262626" stroke-width="0.8"/>
<path d="M719.30,384.00 H746.50 V397.90 H719.30 Z" fill="none" stroke="#262626" stroke-width="1.0"/>
<path d="M732.20,384.00 V397.90" fill="none" stroke="#262626" stroke-width="1.2"/>
<path d="M722.50,397.10 L722.50,384.90" fill="none" stroke="#262626" stroke-width="1.0"/>
<path d="M722.50,384.90 L724.10,388.70 L720.90,388.70 Z" fill="#262626"/>
<path d="M729.20,384.80 L729.20,397.00" fill="none" stroke="#262626" stroke-width="1.0"/>
<path d="M729.20,397.00 L727.60,393.20 L730.80,393.20 Z" fill="#262626"/>
<path d="M734.70,384.00 V397.90" fill="none" stroke="#262626" stroke-width="1.0"/>
<path d="M742.50,382.80 V387.50 M741.00,387.50 H744.00" fill="none" stroke="#262626" stroke-width="1.0"/>
<path d="M742.50,399.10 V394.40 M741.00,394.40 H744.00" fill="none" stroke="#262626" stroke-width="1.0"/>
<path d="M746.50,392.10 h15.20 v5.80 h-15.20 Z" fill="none" stroke="#262626" stroke-width="1.0"/>
<path d="M752.15,392.40 L757.18,397.90" fill="none" stroke="#262626" stroke-width="0.75"/>
<path d="M746.81,386.00 C747.53,388.00 748.04,389.20 748.76,389.00 C749.79,388.60 750.81,385.80 752.15,385.90 C753.48,386.00 754.20,388.90 755.02,388.80 C755.85,388.70 756.36,386.60 757.18,386.20 L761.70,386.20 L761.70,392.10" fill="none" stroke="#262626" stroke-width="1.0"/>
<text x="722.50" y="382.50" font-size="6.7" fill="#1e1e1e" text-anchor="middle" font-weight="normal" stroke="#1e1e1e" stroke-width="0.25">A</text>
<text x="729.40" y="382.50" font-size="6.7" fill="#1e1e1e" text-anchor="middle" font-weight="normal" stroke="#1e1e1e" stroke-width="0.25">B</text>
<text x="722.50" y="404.20" font-size="6.7" fill="#1e1e1e" text-anchor="middle" font-weight="normal" stroke="#1e1e1e" stroke-width="0.25">P</text>
<text x="729.40" y="404.20" font-size="6.7" fill="#1e1e1e" text-anchor="middle" font-weight="normal" stroke="#1e1e1e" stroke-width="0.25">T</text>
<text x="669.50" y="395.65" font-size="14" fill="#363636" text-anchor="start" font-weight="normal" >a</text>
<text x="792.00" y="395.65" font-size="14" fill="#363636" text-anchor="start" font-weight="normal" >b</text>
<text x="586.20" y="430.90" font-size="14" fill="#363636" text-anchor="start" font-weight="normal" >2D12A</text>
<path d="M704.30,425.40 h15.00 v5.80 h-15.00 Z" fill="none" stroke="#262626" stroke-width="1.0"/>
<path d="M711.80,431.20 L718.90,421.60" fill="none" stroke="#262626" stroke-width="0.8"/>
<path d="M713.20,420.90 L714.40,424.70 L715.90,420.90" fill="none" stroke="#262626" stroke-width="0.8"/>
<path d="M719.30,417.30 H746.50 V431.20 H719.30 Z" fill="none" stroke="#262626" stroke-width="1.0"/>
<path d="M732.20,417.30 V431.20" fill="none" stroke="#262626" stroke-width="1.2"/>
<path d="M722.50,430.40 L722.50,418.20" fill="none" stroke="#262626" stroke-width="1.0"/>
<path d="M722.50,418.20 L724.10,422.00 L720.90,422.00 Z" fill="#262626"/>
<path d="M729.20,418.10 L729.20,430.30" fill="none" stroke="#262626" stroke-width="1.0"/>
<path d="M729.20,430.30 L727.60,426.50 L730.80,426.50 Z" fill="#262626"/>
<path d="M732.20,417.30 L746.50,431.20" fill="none" stroke="#262626" stroke-width="1.0"/>
<path d="M737.20,431.20 V426.70 M735.70,426.70 H738.70" fill="none" stroke="#262626" stroke-width="1.0"/>
<path d="M742.50,416.10 V420.80 M741.00,420.80 H744.00" fill="none" stroke="#262626" stroke-width="1.0"/>
<path d="M746.50,425.40 h15.20 v5.80 h-15.20 Z" fill="none" stroke="#262626" stroke-width="1.0"/>
<path d="M752.15,425.70 L757.18,431.20" fill="none" stroke="#262626" stroke-width="0.75"/>
<path d="M746.81,419.30 C747.53,421.30 748.04,422.50 748.76,422.30 C749.79,421.90 750.81,419.10 752.15,419.20 C753.48,419.30 754.20,422.20 755.02,422.10 C755.85,422.00 756.36,419.90 757.18,419.50 L761.70,419.50 L761.70,425.40" fill="none" stroke="#262626" stroke-width="1.0"/>
<text x="722.50" y="415.80" font-size="6.7" fill="#1e1e1e" text-anchor="middle" font-weight="normal" stroke="#1e1e1e" stroke-width="0.25">A</text>
<text x="729.40" y="415.80" font-size="6.7" fill="#1e1e1e" text-anchor="middle" font-weight="normal" stroke="#1e1e1e" stroke-width="0.25">B</text>
<text x="722.50" y="437.50" font-size="6.7" fill="#1e1e1e" text-anchor="middle" font-weight="normal" stroke="#1e1e1e" stroke-width="0.25">P</text>
<text x="729.40" y="437.50" font-size="6.7" fill="#1e1e1e" text-anchor="middle" font-weight="normal" stroke="#1e1e1e" stroke-width="0.25">T</text>
<text x="669.50" y="430.90" font-size="14" fill="#363636" text-anchor="start" font-weight="normal" >a</text>
<text x="792.00" y="430.90" font-size="14" fill="#363636" text-anchor="start" font-weight="normal" >b</text>
</svg>
</body></html>
